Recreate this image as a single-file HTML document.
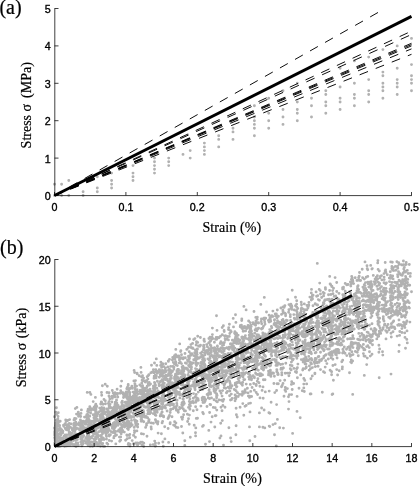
<!DOCTYPE html>
<html lang="en"><head><meta charset="utf-8"><title>Stress-strain</title>
<style>html,body{margin:0;padding:0;background:#fff}svg{display:block}.t{font-family:"Liberation Sans",Arial,Helvetica,sans-serif;font-size:10.7px;fill:#000;stroke:#000;stroke-width:.35}.s{font-family:"Liberation Serif","Times New Roman",Times,serif;font-size:14px;fill:#000;stroke:#000;stroke-width:.2}.p{font-family:"Liberation Serif","Times New Roman",Times,serif;font-size:20px;fill:#000;stroke:#000;stroke-width:.2}.ax{stroke:#000;stroke-width:.75;fill:none}.d{stroke:#000;stroke-width:.95;fill:none;stroke-dasharray:9 8.27}.k{stroke:#000;stroke-width:2.9;fill:none}.g{stroke:#b1b1b1;stroke-width:2.9;stroke-linecap:round;fill:none}</style></head><body>
<svg width="419" height="486" viewBox="0 0 419 486">
<rect width="419" height="486" fill="#fff"/>
<path class="g" d="M54.5 184.3h0M54.5 195.5h0M61.6 184.3h0M61.6 195.5h0M68.8 180.5h0M68.8 195.5h0M83.1 191.8h0M83.1 195.5h0M97.3 176.8h0M97.3 188.0h0M97.3 191.8h0M111.6 173.1h0M111.6 180.5h0M111.6 184.3h0M111.6 188.0h0M133.0 165.6h0M133.0 173.1h0M133.0 176.8h0M133.0 180.5h0M154.5 158.1h0M154.5 161.8h0M154.5 165.6h0M154.5 169.3h0M154.5 173.1h0M168.7 158.1h0M168.7 161.8h0M168.7 165.6h0M183.0 154.4h0M190.2 150.6h0M190.2 158.1h0M204.4 143.1h0M204.4 146.9h0M204.4 150.6h0M204.4 154.4h0M218.7 135.7h0M218.7 139.4h0M218.7 146.9h0M233.0 128.2h0M233.0 131.9h0M233.0 139.4h0M254.4 105.7h0M254.4 117.0h0M254.4 120.7h0M254.4 124.4h0M254.4 128.2h0M254.4 135.7h0M268.7 98.3h0M268.7 113.2h0M268.7 120.7h0M268.7 128.2h0M283.0 90.8h0M283.0 109.5h0M283.0 117.0h0M283.0 124.4h0M297.3 83.3h0M297.3 102.0h0M297.3 109.5h0M297.3 113.2h0M297.3 120.7h0M311.5 98.3h0M311.5 105.7h0M311.5 117.0h0M325.8 90.8h0M325.8 94.5h0M325.8 102.0h0M325.8 105.7h0M325.8 113.2h0M340.1 68.3h0M340.1 87.0h0M340.1 98.3h0M340.1 102.0h0M340.1 109.5h0M354.4 60.9h0M354.4 83.3h0M354.4 94.5h0M354.4 98.3h0M354.4 105.7h0M368.7 57.1h0M368.7 79.6h0M368.7 90.8h0M368.7 94.5h0M368.7 102.0h0M382.9 49.6h0M382.9 72.1h0M382.9 75.8h0M382.9 83.3h0M382.9 87.0h0M382.9 90.8h0M382.9 98.3h0M397.2 45.9h0M397.2 68.3h0M397.2 79.6h0M397.2 83.3h0M397.2 87.0h0M397.2 94.5h0M411.5 38.4h0M411.5 64.6h0M411.5 75.8h0M411.5 79.6h0M411.5 83.3h0M411.5 90.8h0"/>
<path class="d" d="M54.5 195.5L411.50 31.13"/>
<path class="d" d="M54.5 195.5L411.50 34.49"/>
<path class="d" d="M54.5 195.5L411.50 43.28"/>
<path class="d" d="M54.5 195.5L411.50 44.59"/>
<path class="d" d="M54.5 195.5L411.50 45.90"/>
<path class="d" d="M54.5 195.5L411.50 48.89"/>
<path class="d" d="M54.5 195.5L411.50 54.31"/>
<path class="d" d="M54.5 195.5L385.06 8.50"/>
<path class="k" d="M54.5 195.5L411.50 16.35"/>
<path class="ax" d="M54.8 8.5V195.6H411.8"/>
<path class="ax" d="M54.5 195.50h4M54.5 158.10h4M54.5 120.70h4M54.5 83.30h4M54.5 45.90h4M54.5 8.50h4M54.50 195.5v-3.5M125.90 195.5v-3.5M197.30 195.5v-3.5M268.70 195.5v-3.5M340.10 195.5v-3.5M411.50 195.5v-3.5"/>
<text class="t" x="50.6" y="200.0" text-anchor="end">0</text>
<text class="t" x="50.6" y="162.6" text-anchor="end">1</text>
<text class="t" x="50.6" y="125.2" text-anchor="end">2</text>
<text class="t" x="50.6" y="87.8" text-anchor="end">3</text>
<text class="t" x="50.6" y="50.4" text-anchor="end">4</text>
<text class="t" x="50.6" y="13.0" text-anchor="end">5</text>
<text class="t" x="54.5" y="210.9" text-anchor="middle">0</text>
<text class="t" x="125.9" y="210.9" text-anchor="middle">0.1</text>
<text class="t" x="197.3" y="210.9" text-anchor="middle">0.2</text>
<text class="t" x="268.7" y="210.9" text-anchor="middle">0.3</text>
<text class="t" x="340.1" y="210.9" text-anchor="middle">0.4</text>
<text class="t" x="411.5" y="210.9" text-anchor="middle">0.5</text>
<text class="p" x="-0.6" y="13.6">(a)</text>
<text class="s" transform="translate(30.8 148.4) rotate(-90)">Stress σ</text>
<text class="s" transform="translate(30.8 62.2) rotate(-90)" text-anchor="end">(MPa)</text>
<text class="s" x="202.5" y="232" textLength="58.6">Strain (%)</text>
<path class="g" d="M114.8 431.3h0M270.6 349.6h0M279.6 336.5h0M108.2 410.6h0M187.4 389.5h0M83.7 435.7h0M263.5 338.3h0M168.6 373.6h0M121.7 412.6h0M123.9 417.9h0M217.9 337.7h0M148.8 420.7h0M115.0 418.0h0M332.9 365.5h0M222.6 352.4h0M95.2 425.0h0M160.9 362.3h0M104.4 418.7h0M351.4 279.4h0M284.0 396.3h0M332.5 343.2h0M172.2 383.9h0M274.8 343.5h0M147.6 417.7h0M97.3 413.7h0M370.6 302.2h0M404.5 270.9h0M242.5 391.8h0M349.4 314.4h0M373.0 302.1h0M61.2 431.5h0M344.0 297.0h0M235.8 341.9h0M270.7 321.2h0M385.7 330.6h0M231.0 370.8h0M109.6 422.1h0M267.1 350.4h0M89.1 442.0h0M136.1 423.1h0M386.0 338.9h0M199.4 358.1h0M120.0 431.6h0M88.4 440.1h0M216.5 355.8h0M159.3 409.1h0M242.4 352.8h0M134.3 404.2h0M400.9 282.3h0M323.9 308.3h0M154.0 405.6h0M182.5 373.2h0M86.9 441.6h0M222.2 372.5h0M368.3 284.0h0M278.5 351.9h0M298.3 336.5h0M326.1 309.2h0M87.3 427.7h0M333.5 288.2h0M257.8 349.0h0M301.9 346.3h0M358.6 289.5h0M236.1 408.2h0M263.0 365.9h0M100.2 435.6h0M354.1 312.2h0M338.2 307.2h0M279.7 427.8h0M363.9 289.8h0M287.6 350.6h0M377.4 296.6h0M61.2 434.1h0M99.4 411.7h0M65.7 419.9h0M406.3 283.1h0M304.8 380.4h0M137.5 443.0h0M107.2 417.7h0M54.9 429.0h0M154.6 390.6h0M384.8 311.9h0M139.8 401.7h0M320.6 334.8h0M141.9 409.9h0M102.4 385.7h0M127.6 424.7h0M96.2 411.4h0M243.8 379.7h0M399.7 310.5h0M374.6 294.2h0M250.2 322.6h0M236.9 382.5h0M155.0 392.2h0M289.7 330.1h0M116.3 405.9h0M159.4 397.7h0M157.4 381.2h0M405.3 324.0h0M312.4 295.2h0M187.4 414.3h0M384.8 300.4h0M68.2 445.0h0M317.1 362.9h0M332.2 328.2h0M386.3 303.0h0M114.7 427.8h0M162.2 412.1h0M166.8 385.3h0M276.2 360.1h0M110.4 434.7h0M214.4 360.4h0M214.0 391.1h0M333.0 317.5h0M270.6 373.5h0M79.3 429.5h0M407.8 279.4h0M153.8 385.9h0M211.2 352.5h0M317.9 312.7h0M75.3 436.3h0M133.6 401.7h0M317.3 328.2h0M305.0 360.9h0M399.5 325.3h0M331.6 371.8h0M300.7 312.9h0M157.4 371.4h0M328.8 353.6h0M182.5 373.8h0M117.1 394.2h0M98.5 445.5h0M323.9 335.4h0M267.3 362.2h0M171.8 395.1h0M210.6 345.5h0M112.3 390.5h0M107.7 429.4h0M280.2 357.8h0M163.5 376.3h0M175.6 380.1h0M141.5 414.7h0M73.8 425.4h0M118.7 415.1h0M221.0 435.9h0M205.2 365.6h0M354.9 295.8h0M115.0 404.2h0M139.4 398.0h0M191.0 347.5h0M124.3 407.4h0M218.4 384.7h0M162.2 397.5h0M368.7 292.4h0M323.3 321.6h0M60.1 443.6h0M262.5 374.9h0M143.5 434.1h0M299.5 315.0h0M217.6 337.5h0M102.7 409.7h0M278.9 330.0h0M401.3 264.6h0M387.3 274.7h0M338.4 311.7h0M405.4 271.5h0M261.6 361.5h0M104.6 446.4h0M54.6 433.1h0M128.9 403.3h0M326.0 354.8h0M244.0 357.7h0M310.9 363.3h0M337.6 307.5h0M371.2 281.6h0M185.2 368.5h0M291.7 329.5h0M101.1 420.6h0M224.1 381.1h0M343.8 334.1h0M129.7 416.3h0M232.2 344.6h0M266.5 312.0h0M385.2 262.5h0M104.4 431.6h0M309.2 370.1h0M324.7 342.1h0M331.1 302.6h0M188.6 378.6h0M279.3 351.4h0M330.2 341.7h0M237.7 350.6h0M169.3 404.8h0M339.1 306.5h0M217.1 395.4h0M346.8 306.8h0M222.8 348.1h0M128.2 428.4h0M201.4 386.7h0M335.6 305.2h0M228.1 363.9h0M346.8 284.9h0M136.9 421.2h0M373.9 310.1h0M121.1 406.9h0M61.1 432.9h0M389.9 277.6h0M100.7 404.0h0M319.6 340.4h0M405.2 292.3h0M156.3 422.2h0M264.5 338.0h0M254.4 377.7h0M401.0 308.2h0M365.5 304.6h0M156.7 404.0h0M127.2 404.3h0M262.6 368.9h0M397.7 325.1h0M379.2 333.7h0M211.9 338.9h0M189.9 398.9h0M102.5 433.7h0M349.9 329.4h0M96.6 435.7h0M109.2 435.1h0M326.4 321.6h0M154.7 441.1h0M256.0 321.0h0M292.2 290.2h0M237.2 356.5h0M251.6 344.5h0M66.9 427.1h0M237.9 338.8h0M177.6 369.7h0M133.6 398.8h0M284.0 337.4h0M160.0 406.5h0M151.1 427.0h0M104.6 426.6h0M150.4 393.7h0M224.1 330.4h0M301.8 333.9h0M56.9 426.7h0M283.5 349.2h0M127.4 421.6h0M239.2 349.2h0M208.0 354.0h0M375.5 283.1h0M332.8 393.9h0M204.8 381.3h0M323.6 295.9h0M182.1 402.7h0M374.2 300.4h0M277.0 357.1h0M153.9 392.7h0M215.7 351.3h0M129.5 408.3h0M227.4 391.5h0M204.1 399.0h0M333.6 333.3h0M392.0 292.7h0M150.3 444.9h0M245.4 367.3h0M168.9 416.6h0M135.0 403.4h0M148.2 392.5h0M362.6 339.5h0M397.7 297.2h0M310.5 352.2h0M66.0 443.1h0M259.9 375.8h0M288.5 409.1h0M352.3 330.2h0M154.9 383.3h0M271.1 402.2h0M137.7 427.1h0M385.6 304.2h0M359.2 276.3h0M102.1 416.4h0M121.6 381.1h0M141.4 401.4h0M187.8 387.3h0M372.3 268.6h0M265.2 333.9h0M364.0 329.2h0M351.0 321.4h0M383.3 316.7h0M105.2 426.6h0M225.6 371.9h0M74.7 435.5h0M242.8 403.6h0M257.9 336.7h0M296.0 349.8h0M133.9 397.3h0M242.8 354.0h0M163.1 400.3h0M226.6 381.7h0M247.4 388.3h0M133.0 392.1h0M183.2 405.0h0M126.5 397.5h0M317.3 341.1h0M180.7 357.6h0M203.4 413.8h0M62.8 443.7h0M242.7 359.8h0M404.8 285.6h0M213.3 377.6h0M298.5 324.7h0M314.0 340.0h0M353.1 298.5h0M176.2 409.0h0M377.1 315.0h0M343.4 287.6h0M336.0 311.3h0M365.2 326.8h0M300.9 345.9h0M271.8 331.4h0M134.5 394.8h0M228.1 387.2h0M382.9 328.9h0M316.8 362.0h0M208.0 367.3h0M146.5 380.5h0M276.8 348.3h0M320.4 345.6h0M128.2 444.5h0M358.1 307.0h0M198.0 398.6h0M231.3 394.1h0M361.6 333.5h0M264.9 360.0h0M155.4 375.0h0M243.4 327.0h0M239.7 359.3h0M310.2 394.0h0M156.3 401.2h0M71.7 443.4h0M356.6 297.1h0M55.5 431.8h0M236.5 357.5h0M56.4 445.1h0M135.9 401.1h0M212.4 363.9h0M192.1 372.9h0M276.8 369.6h0M291.6 394.6h0M259.0 382.7h0M297.4 377.8h0M277.8 326.4h0M287.3 373.1h0M408.4 285.0h0M152.7 400.6h0M278.4 330.4h0M182.6 372.4h0M126.5 394.2h0M212.0 337.2h0M163.0 389.4h0M189.9 377.3h0M235.1 394.9h0M271.1 363.2h0M215.8 359.2h0M256.0 340.6h0M203.7 345.3h0M163.5 392.4h0M183.7 401.6h0M398.5 271.8h0M243.0 345.2h0M75.1 435.0h0M362.2 296.2h0M106.5 436.5h0M95.2 431.3h0M377.8 296.5h0M401.0 314.2h0M196.9 363.2h0M175.8 406.7h0M305.2 342.4h0M66.1 421.5h0M288.9 336.0h0M393.0 322.0h0M202.8 397.1h0M316.6 296.3h0M93.9 439.1h0M282.5 328.7h0M290.7 329.6h0M109.4 430.4h0M148.5 395.2h0M142.8 399.2h0M230.6 369.0h0M127.2 438.7h0M68.0 427.7h0M209.7 386.3h0M320.5 369.6h0M235.0 398.0h0M266.4 348.2h0M357.0 290.6h0M176.8 378.0h0M184.3 392.0h0M195.5 368.6h0M241.8 358.6h0M197.5 373.5h0M121.8 428.3h0M297.4 367.8h0M97.4 425.0h0M269.1 315.3h0M280.1 337.7h0M345.5 317.9h0M226.7 370.6h0M278.4 316.3h0M230.5 330.7h0M170.2 422.8h0M283.3 336.9h0M398.0 287.7h0M149.8 390.7h0M376.0 329.7h0M358.5 315.8h0M231.0 388.0h0M362.7 296.4h0M397.1 336.1h0M369.2 309.3h0M292.9 328.5h0M335.0 352.5h0M177.9 427.6h0M101.4 414.8h0M403.1 272.9h0M189.7 376.1h0M250.9 357.3h0M129.1 444.0h0M61.4 433.4h0M214.4 361.7h0M163.9 394.8h0M136.1 391.5h0M319.8 342.8h0M331.1 320.3h0M64.6 446.2h0M259.3 353.6h0M162.0 375.9h0M210.4 353.1h0M219.0 337.8h0M127.3 409.6h0M97.4 443.5h0M326.0 321.1h0M256.7 359.0h0M294.3 310.0h0M155.3 446.3h0M298.3 351.6h0M121.2 429.4h0M91.2 431.1h0M175.3 375.6h0M357.8 306.9h0M364.3 375.4h0M168.3 360.9h0M268.3 344.6h0M380.4 332.9h0M204.3 386.4h0M323.4 302.6h0M406.7 289.3h0M325.9 339.4h0M230.5 400.0h0M279.9 344.3h0M121.3 392.5h0M162.8 364.0h0M82.6 432.7h0M230.4 385.6h0M216.7 395.3h0M341.1 321.8h0M114.1 423.3h0M388.7 317.2h0M338.6 351.9h0M371.0 336.3h0M148.4 412.6h0M290.8 354.3h0M157.4 404.8h0M360.8 292.9h0M81.1 434.9h0M226.4 392.7h0M149.4 384.8h0M208.7 342.9h0M156.3 358.9h0M187.8 361.1h0M154.5 363.0h0M127.5 408.2h0M289.1 333.0h0M102.8 429.2h0M117.1 394.1h0M200.1 389.6h0M181.5 426.5h0M100.1 415.4h0M305.5 317.7h0M345.5 308.4h0M195.1 389.7h0M229.2 358.6h0M147.0 407.2h0M251.9 334.2h0M344.8 317.9h0M305.0 351.9h0M366.9 335.9h0M351.3 312.1h0M372.0 323.8h0M176.5 387.9h0M350.1 319.8h0M391.0 326.7h0M304.6 314.4h0M148.7 398.7h0M185.8 393.5h0M305.1 363.9h0M184.5 386.4h0M219.3 381.0h0M92.4 425.9h0M191.5 386.1h0M76.0 439.6h0M82.8 444.2h0M384.0 288.2h0M291.1 369.9h0M176.5 391.3h0M237.7 382.1h0M404.3 310.4h0M259.7 352.9h0M189.9 378.4h0M342.7 360.3h0M332.1 394.5h0M324.0 356.1h0M190.4 403.4h0M195.9 402.2h0M320.2 338.0h0M154.9 405.1h0M283.0 345.7h0M191.3 402.1h0M233.5 370.5h0M403.6 322.3h0M110.8 418.0h0M126.2 391.9h0M94.8 432.4h0M114.2 431.5h0M229.1 363.8h0M246.8 349.2h0M141.8 420.2h0M212.5 380.5h0M324.6 300.8h0M236.3 367.8h0M258.2 356.0h0M270.6 342.4h0M112.4 427.5h0M296.7 300.8h0M329.7 353.0h0M221.0 407.3h0M175.9 423.0h0M128.5 443.5h0M169.9 391.2h0M392.9 270.2h0M189.2 366.4h0M236.4 333.3h0M114.3 428.2h0M97.0 416.1h0M306.5 328.5h0M274.7 322.9h0M323.5 371.8h0M254.7 366.8h0M55.3 443.4h0M319.2 289.4h0M331.0 340.9h0M84.1 440.6h0M85.7 438.2h0M286.1 327.7h0M391.2 302.9h0M197.7 342.4h0M372.8 309.1h0M271.9 315.7h0M359.0 348.2h0M284.8 322.9h0M134.2 427.4h0M75.3 408.6h0M244.8 391.3h0M260.0 397.9h0M137.3 399.4h0M257.3 363.2h0M232.5 349.6h0M250.9 353.3h0M280.8 324.7h0M307.7 348.7h0M309.1 345.9h0M406.0 323.7h0M103.5 414.1h0M93.9 422.6h0M409.3 302.7h0M117.7 413.9h0M238.7 340.7h0M68.4 430.2h0M88.6 432.6h0M345.2 291.2h0M285.8 328.4h0M236.8 352.1h0M133.9 409.2h0M229.2 367.2h0M138.2 400.3h0M80.7 416.5h0M94.8 438.8h0M153.4 369.6h0M86.9 422.1h0M114.6 412.9h0M270.4 319.3h0M101.4 411.1h0M175.1 392.4h0M86.4 420.6h0M302.1 331.7h0M338.6 352.7h0M363.8 349.7h0M210.6 371.6h0M113.6 409.7h0M207.0 350.5h0M162.9 363.9h0M393.1 297.6h0M134.7 414.4h0M86.6 416.9h0M205.3 376.0h0M257.1 322.9h0M147.2 401.3h0M325.4 287.7h0M350.4 312.5h0M149.9 389.1h0M186.4 363.4h0M208.5 394.5h0M358.8 333.4h0M128.7 424.0h0M365.0 290.1h0M133.4 402.7h0M379.2 309.2h0M353.6 283.6h0M404.5 325.6h0M175.3 397.2h0M290.6 334.0h0M389.9 308.5h0M202.5 356.5h0M206.2 378.2h0M303.1 362.0h0M307.8 327.8h0M248.0 325.4h0M230.7 347.4h0M301.2 315.4h0M384.1 277.1h0M110.8 419.0h0M143.1 392.2h0M392.8 327.1h0M216.0 389.4h0M332.3 345.4h0M382.5 351.7h0M129.9 424.0h0M280.1 380.6h0M183.3 357.6h0M364.7 320.0h0M334.2 296.4h0M230.4 344.0h0M134.5 432.6h0M154.0 405.4h0M114.5 407.3h0M336.4 354.9h0M91.0 444.8h0M324.8 312.7h0M71.2 435.7h0M127.5 425.8h0M275.7 354.0h0M268.9 351.5h0M253.7 346.6h0M88.8 434.7h0M194.1 385.9h0M296.1 342.9h0M88.4 409.6h0M355.4 351.5h0M116.6 412.3h0M393.4 293.6h0M86.7 432.3h0M323.6 315.6h0M223.4 325.8h0M174.4 392.9h0M161.5 403.8h0M375.1 329.8h0M280.0 327.2h0M85.7 428.4h0M234.9 340.8h0M236.6 396.4h0M210.6 394.0h0M283.1 331.3h0M362.2 269.3h0M228.1 378.8h0M177.8 369.4h0M339.7 331.6h0M362.6 277.7h0M75.8 422.2h0M313.0 334.4h0M291.5 307.2h0M276.8 371.8h0M196.3 357.8h0M261.7 323.8h0M343.8 351.7h0M351.7 281.8h0M383.3 295.8h0M211.5 397.9h0M294.8 319.3h0M407.7 300.8h0M197.7 357.4h0M304.6 320.8h0M175.7 396.4h0M320.6 318.4h0M269.6 337.7h0M84.6 427.6h0M265.0 324.3h0M358.3 355.8h0M142.1 420.7h0M408.8 307.2h0M216.8 355.2h0M322.7 338.7h0M255.5 364.3h0M212.2 348.3h0M190.3 437.2h0M82.3 438.1h0M149.8 411.4h0M209.1 348.8h0M246.2 353.3h0M323.8 337.3h0M214.9 375.6h0M222.1 396.1h0M302.7 341.8h0M261.5 329.1h0M260.7 363.1h0M389.5 281.6h0M189.3 396.7h0M209.3 363.0h0M276.3 344.6h0M162.4 415.7h0M262.9 361.3h0M88.3 435.1h0M361.9 322.1h0M223.8 343.2h0M300.5 316.8h0M87.4 422.1h0M296.3 330.1h0M59.6 425.4h0M150.8 410.0h0M303.8 387.9h0M352.9 281.3h0M184.4 374.6h0M129.7 394.2h0M386.7 291.5h0M369.8 298.4h0M261.8 340.6h0M277.5 320.7h0M210.6 341.0h0M378.9 325.6h0M360.6 280.5h0M223.5 445.1h0M96.1 432.7h0M142.2 400.9h0M309.5 323.2h0M140.8 400.0h0M165.0 395.4h0M403.5 315.8h0M278.5 363.2h0M106.8 423.5h0M405.6 308.1h0M369.4 325.3h0M283.0 348.4h0M134.6 372.5h0M357.4 306.5h0M127.9 402.2h0M251.8 344.2h0M210.5 392.7h0M115.7 426.6h0M122.3 401.2h0M108.2 427.3h0M252.3 358.9h0M95.7 437.2h0M129.8 392.4h0M113.8 437.9h0M70.1 436.9h0M290.1 358.0h0M237.2 350.4h0M156.7 411.2h0M323.7 357.8h0M107.8 444.3h0M343.3 331.9h0M317.8 316.9h0M229.2 388.3h0M358.1 344.6h0M296.9 358.2h0M261.6 362.3h0M237.3 363.8h0M184.9 375.4h0M248.9 339.6h0M359.2 345.6h0M167.7 395.7h0M172.4 371.5h0M55.5 425.6h0M145.0 390.8h0M404.2 308.2h0M195.8 354.7h0M168.5 417.7h0M223.8 363.5h0M299.4 314.5h0M343.4 340.9h0M268.3 365.0h0M129.2 407.5h0M170.2 412.5h0M325.5 299.9h0M341.7 329.9h0M291.0 325.8h0M241.8 337.1h0M256.7 349.3h0M177.3 381.1h0M58.0 446.4h0M402.2 275.4h0M215.7 390.6h0M221.7 368.7h0M225.7 388.3h0M150.5 391.0h0M239.8 377.6h0M128.7 398.2h0M402.8 310.5h0M164.9 438.9h0M231.2 377.0h0M350.5 293.4h0M167.9 381.3h0M182.8 374.9h0M248.1 373.6h0M283.0 311.6h0M210.9 378.4h0M255.0 358.3h0M345.3 311.9h0M160.7 414.4h0M103.5 410.5h0M393.1 299.0h0M128.3 415.1h0M60.9 445.9h0M379.3 331.2h0M140.3 390.2h0M238.9 367.7h0M261.8 367.0h0M123.0 419.5h0M114.7 416.0h0M209.6 377.0h0M155.6 405.5h0M332.0 313.1h0M373.1 290.4h0M96.4 442.2h0M222.9 401.3h0M112.9 432.6h0M303.8 316.6h0M313.9 349.9h0M274.5 434.8h0M56.0 438.9h0M216.3 360.7h0M187.6 390.3h0M205.7 399.6h0M135.7 397.3h0M95.3 405.7h0M156.4 376.3h0M268.3 364.1h0M148.1 383.5h0M385.0 294.4h0M225.4 363.0h0M303.8 378.4h0M116.9 408.9h0M162.6 421.4h0M140.1 415.0h0M303.8 384.1h0M243.1 358.0h0M277.7 374.6h0M275.9 350.5h0M210.5 371.2h0M68.8 429.0h0M402.1 265.0h0M119.6 421.7h0M271.7 352.4h0M392.5 315.4h0M188.6 387.3h0M177.6 382.0h0M128.8 416.6h0M220.6 343.2h0M211.2 351.2h0M402.7 279.7h0M229.4 366.1h0M153.2 388.4h0M326.7 305.9h0M285.2 343.9h0M171.1 371.9h0M258.3 322.7h0M143.9 413.4h0M250.0 411.9h0M293.3 359.1h0M79.3 414.3h0M251.9 337.1h0M222.6 390.6h0M70.6 441.6h0M224.0 380.0h0M205.0 371.3h0M201.4 382.9h0M100.4 414.9h0M348.5 331.6h0M211.9 364.3h0M77.5 428.4h0M109.0 407.9h0M230.6 367.1h0M252.6 368.4h0M109.1 415.7h0M292.7 344.9h0M73.8 436.3h0M294.3 318.2h0M352.1 299.8h0M208.8 430.4h0M268.7 333.6h0M220.8 366.6h0M276.9 370.0h0M134.8 404.2h0M282.6 364.1h0M257.5 365.1h0M196.5 382.6h0M258.6 323.1h0M128.3 391.7h0M128.2 384.4h0M94.0 442.0h0M318.6 325.0h0M327.4 299.5h0M58.5 434.2h0M88.8 426.6h0M81.4 422.6h0M386.9 332.3h0M173.8 384.8h0M183.7 395.5h0M303.5 348.5h0M353.5 301.1h0M163.9 366.6h0M220.7 423.2h0M396.8 282.7h0M161.5 401.0h0M242.9 368.8h0M311.6 341.2h0M396.9 261.8h0M357.3 352.3h0M85.5 428.9h0M256.5 353.1h0M359.6 312.1h0M177.1 376.7h0M235.2 384.9h0M391.4 323.8h0M127.5 396.9h0M190.6 353.9h0M344.7 320.4h0M316.6 336.1h0M106.6 408.9h0M276.4 345.3h0M169.7 382.7h0M76.5 414.1h0M187.2 388.4h0M191.1 364.5h0M397.2 303.1h0M104.5 426.9h0M289.4 333.5h0M219.9 351.2h0M81.4 409.9h0M130.3 423.9h0M339.0 310.9h0M105.9 431.4h0M365.0 285.6h0M209.5 441.6h0M276.8 343.2h0M263.4 341.4h0M267.2 350.5h0M334.3 333.4h0M397.8 276.7h0M261.4 319.0h0M88.1 410.2h0M155.2 410.9h0M399.0 280.3h0M181.4 383.3h0M338.0 344.6h0M163.1 387.7h0M231.2 377.8h0M364.8 329.3h0M87.2 392.4h0M81.2 421.0h0M295.9 332.4h0M277.0 346.8h0M350.7 362.1h0M69.8 434.0h0M242.3 360.6h0M250.4 342.4h0M109.3 436.1h0M154.5 382.5h0M196.2 370.6h0M248.7 361.5h0M317.8 312.4h0M174.5 406.8h0M182.1 371.1h0M204.9 354.9h0M347.6 331.8h0M335.9 349.7h0M92.4 446.3h0M177.9 393.0h0M215.7 355.8h0M371.5 294.8h0M293.3 328.4h0M312.2 296.7h0M170.0 380.5h0M143.7 414.3h0M311.2 345.4h0M297.9 364.1h0M168.6 442.4h0M324.1 308.3h0M309.8 327.1h0M195.3 358.7h0M61.0 434.7h0M108.2 414.3h0M227.2 359.4h0M167.2 389.1h0M271.2 348.5h0M399.7 293.3h0M104.5 421.5h0M397.4 282.5h0M97.3 419.2h0M214.5 347.8h0M57.6 431.0h0M344.3 318.9h0M390.1 318.2h0M390.7 261.9h0M323.3 336.5h0M249.9 360.0h0M378.6 311.3h0M154.6 396.1h0M229.0 349.2h0M235.9 352.0h0M366.0 341.1h0M371.1 335.7h0M124.6 422.8h0M228.4 339.9h0M101.6 439.7h0M69.0 439.3h0M391.9 290.6h0M111.8 418.3h0M335.2 364.6h0M255.6 373.2h0M391.3 305.8h0M323.8 350.8h0M195.1 379.5h0M196.6 342.5h0M231.6 358.2h0M309.8 327.0h0M283.4 367.9h0M214.4 349.3h0M310.2 316.3h0M272.1 344.1h0M366.7 364.6h0M377.7 262.9h0M197.0 382.7h0M209.4 342.4h0M177.1 372.7h0M61.0 440.9h0M141.1 372.4h0M131.6 397.2h0M66.4 445.5h0M269.8 413.2h0M182.8 433.0h0M68.3 442.8h0M256.1 337.7h0M337.9 301.4h0M248.7 321.0h0M196.0 400.5h0M284.2 341.5h0M316.3 338.5h0M198.3 370.4h0M202.1 376.9h0M344.3 326.6h0M183.6 393.1h0M161.5 408.3h0M310.2 330.9h0M111.3 431.7h0M328.9 321.5h0M101.3 402.0h0M227.9 353.8h0M264.1 410.0h0M275.8 316.1h0M357.3 348.2h0M174.7 392.1h0M108.3 427.0h0M332.7 320.3h0M297.2 314.5h0M394.9 328.8h0M139.7 401.1h0M183.3 377.4h0M167.7 384.5h0M210.9 345.9h0M234.8 348.3h0M93.9 417.8h0M83.3 429.9h0M317.1 362.8h0M218.3 385.6h0M332.6 290.6h0M200.8 373.9h0M289.2 351.0h0M215.3 415.8h0M256.7 362.6h0M378.4 303.4h0M143.1 410.2h0M222.5 356.6h0M148.9 409.2h0M60.7 446.1h0M80.4 419.9h0M267.6 345.3h0M175.8 349.4h0M120.4 420.9h0M210.9 371.9h0M299.5 332.9h0M75.6 444.3h0M237.2 372.8h0M263.4 326.4h0M323.6 312.4h0M246.1 345.3h0M409.3 264.5h0M271.0 334.4h0M330.8 339.1h0M218.0 388.1h0M355.6 301.7h0M209.8 371.3h0M296.3 338.2h0M277.1 383.8h0M182.2 407.8h0M230.8 369.3h0M114.2 425.8h0M148.7 401.9h0M379.2 377.8h0M134.5 392.0h0M222.1 365.1h0M230.6 355.6h0M370.1 285.9h0M399.3 286.5h0M168.5 393.0h0M357.1 310.8h0M375.3 331.0h0M393.8 288.2h0M251.2 336.9h0M184.3 410.8h0M189.5 366.7h0M256.3 345.8h0M397.6 274.8h0M343.4 337.3h0M200.8 356.8h0M352.5 342.6h0M87.6 433.1h0M248.8 362.9h0M152.5 391.6h0M243.1 356.2h0M312.5 299.0h0M211.7 355.5h0M136.9 444.5h0M273.5 373.3h0M135.0 385.3h0M401.4 285.8h0M284.9 313.3h0M280.9 308.0h0M328.7 318.4h0M82.1 425.4h0M222.8 363.0h0M82.8 426.0h0M392.3 269.2h0M214.4 355.5h0M256.5 374.2h0M167.6 386.2h0M229.8 362.0h0M251.8 355.2h0M182.0 407.6h0M393.7 321.0h0M344.9 299.9h0M349.9 308.7h0M193.6 382.0h0M62.1 444.6h0M118.5 406.6h0M353.1 343.7h0M137.7 445.1h0M186.6 368.2h0M169.5 375.3h0M178.6 370.5h0M156.4 421.4h0M236.4 414.7h0M332.6 318.6h0M292.5 327.3h0M330.3 317.6h0M216.0 370.9h0M169.0 404.8h0M179.4 392.3h0M397.8 268.3h0M374.6 328.4h0M337.8 342.9h0M102.4 426.4h0M214.4 358.7h0M221.7 376.4h0M257.4 335.0h0M317.5 318.4h0M380.9 291.4h0M235.2 338.4h0M261.5 339.2h0M155.8 420.7h0M252.7 347.8h0M191.8 402.2h0M117.2 422.6h0M182.9 370.4h0M315.1 359.8h0M283.6 343.6h0M177.0 405.5h0M85.9 441.6h0M339.0 340.8h0M269.8 334.6h0M163.0 393.3h0M288.9 375.7h0M238.9 372.8h0M157.0 403.3h0M358.4 292.4h0M297.9 324.3h0M247.8 357.3h0M296.7 345.5h0M362.2 334.4h0M352.2 298.0h0M142.1 380.3h0M258.6 342.0h0M351.4 310.0h0M375.3 297.5h0M368.8 287.1h0M202.6 380.7h0M236.1 357.1h0M197.0 409.8h0M94.4 431.1h0M217.4 365.3h0M102.6 423.4h0M202.6 374.6h0M316.3 358.8h0M318.2 356.6h0M355.2 277.8h0M306.4 358.8h0M282.6 338.1h0M306.1 367.7h0M371.6 298.0h0M101.1 418.8h0M134.1 393.0h0M260.8 347.5h0M365.0 310.2h0M214.5 376.6h0M162.1 412.1h0M154.9 412.9h0M370.8 317.6h0M373.3 275.4h0M203.0 402.5h0M102.5 425.3h0M262.9 427.3h0M128.2 385.4h0M311.0 333.0h0M265.6 362.9h0M140.7 442.3h0M109.4 424.1h0M118.1 425.2h0M306.3 366.9h0M303.4 334.0h0M390.9 303.8h0M102.7 443.4h0M281.8 374.9h0M291.7 322.4h0M123.1 422.3h0M141.7 404.2h0M277.6 363.2h0M249.9 375.2h0M238.5 372.1h0M304.2 342.1h0M115.0 392.8h0M402.2 326.0h0M163.0 400.2h0M120.1 393.3h0M196.3 401.1h0M209.7 398.6h0M127.6 413.8h0M269.2 426.1h0M369.8 334.6h0M288.7 348.9h0M310.9 352.4h0M55.3 446.0h0M260.0 375.2h0M155.4 419.7h0M230.0 374.0h0M392.5 311.1h0M309.4 343.2h0M290.1 345.5h0M247.1 346.8h0M248.6 321.1h0M301.3 359.6h0M120.8 407.1h0M243.9 306.4h0M324.5 322.1h0M121.2 410.8h0M319.1 362.2h0M277.8 332.9h0M267.8 334.4h0M208.8 377.1h0M143.1 387.6h0M306.9 309.8h0M127.8 410.4h0M320.0 346.7h0M210.6 404.8h0M301.5 353.9h0M352.9 325.8h0M304.0 311.8h0M297.4 326.4h0M244.1 369.2h0M265.4 344.3h0M324.2 293.3h0M91.1 424.2h0M392.2 293.2h0M385.6 269.9h0M129.3 413.1h0M405.0 292.0h0M401.4 284.2h0M308.9 302.4h0M337.8 327.8h0M89.6 426.3h0M343.3 297.4h0M177.3 365.6h0M142.1 391.9h0M391.9 282.5h0M92.1 436.4h0M301.1 311.3h0M307.3 335.5h0M299.8 339.9h0M250.7 328.6h0M95.5 425.8h0M343.0 349.2h0M364.3 337.4h0M87.3 435.7h0M100.5 424.0h0M125.3 411.6h0M265.0 379.8h0M167.2 395.6h0M95.7 430.2h0M160.5 381.4h0M217.6 370.0h0M155.8 388.2h0M250.5 403.1h0M149.8 413.8h0M159.2 392.3h0M290.0 351.9h0M103.1 428.0h0M301.8 352.4h0M193.5 393.6h0M225.6 359.2h0M359.4 298.2h0M269.8 426.6h0M147.8 394.6h0M331.6 325.5h0M149.6 383.9h0M276.9 344.6h0M59.2 437.2h0M215.7 352.5h0M277.5 348.2h0M88.5 442.2h0M382.3 305.1h0M350.0 338.7h0M371.3 285.8h0M409.9 322.1h0M190.4 406.1h0M277.3 310.0h0M379.2 318.6h0M257.0 336.0h0M265.3 338.8h0M138.2 410.1h0M379.8 295.9h0M176.4 356.9h0M98.1 428.0h0M133.6 435.2h0M179.6 407.4h0M229.3 336.4h0M243.4 346.2h0M316.8 346.7h0M134.4 430.6h0M309.4 365.9h0M161.9 409.1h0M335.1 334.4h0M226.7 365.4h0M214.8 369.4h0M162.3 386.3h0M74.9 419.5h0M373.3 333.7h0M137.7 424.2h0M364.4 327.4h0M207.7 376.4h0M255.6 351.0h0M298.4 350.0h0M112.4 397.3h0M264.4 319.9h0M371.7 285.0h0M61.0 431.1h0M127.5 422.5h0M99.4 441.1h0M232.4 340.3h0M120.5 429.9h0M93.2 414.8h0M266.3 341.0h0M403.1 311.1h0M128.8 409.6h0M149.2 382.4h0M384.0 282.7h0M116.9 393.6h0M368.7 339.5h0M238.1 335.2h0M208.7 393.1h0M135.4 402.1h0M93.7 433.9h0M307.7 345.5h0M331.6 374.8h0M88.7 410.5h0M151.1 397.5h0M262.3 357.8h0M377.3 297.6h0M215.4 375.6h0M178.5 369.4h0M183.9 371.0h0M240.1 407.2h0M251.3 330.8h0M196.4 377.3h0M377.5 308.9h0M105.5 403.7h0M91.8 421.4h0M149.6 395.8h0M214.4 342.3h0M217.9 349.3h0M127.0 435.6h0M365.8 296.4h0M63.5 445.1h0M131.4 425.7h0M323.4 329.6h0M249.5 397.4h0M207.0 406.5h0M149.5 385.1h0M173.1 389.0h0M129.0 400.8h0M372.1 310.1h0M293.3 330.9h0M343.7 309.3h0M222.5 345.4h0M329.1 310.8h0M298.1 330.5h0M216.6 355.4h0M197.8 381.5h0M125.2 393.8h0M284.6 332.0h0M224.1 376.8h0M331.9 317.4h0M147.9 379.1h0M290.6 327.5h0M178.3 412.2h0M348.8 296.6h0M245.2 391.7h0M148.3 406.3h0M311.3 300.0h0M396.2 282.8h0M107.1 423.5h0M113.8 431.8h0M260.5 347.0h0M104.2 422.4h0M350.4 296.4h0M304.3 303.9h0M66.1 445.8h0M187.5 379.8h0M316.9 324.3h0M111.1 407.6h0M180.5 394.2h0M194.1 373.5h0M188.2 381.5h0M175.5 374.7h0M96.3 428.8h0M406.3 322.4h0M134.8 406.6h0M182.9 366.2h0M405.5 264.8h0M299.0 388.2h0M174.9 425.8h0M170.2 380.1h0M192.9 384.6h0M378.3 306.8h0M264.3 297.4h0M328.2 311.1h0M360.1 336.4h0M363.2 316.6h0M269.1 322.0h0M404.7 284.3h0M249.2 335.3h0M227.6 360.5h0M336.9 308.5h0M109.7 405.1h0M349.4 353.7h0M399.9 292.1h0M249.5 340.5h0M384.0 273.6h0M350.4 281.9h0M107.6 411.8h0M115.2 411.1h0M261.9 342.9h0M96.9 435.9h0M283.0 383.5h0M336.8 327.2h0M199.8 383.0h0M144.7 417.1h0M89.2 409.8h0M229.3 354.9h0M221.9 352.4h0M198.3 392.1h0M89.9 392.5h0M397.4 283.6h0M175.7 393.6h0M189.2 351.8h0M363.4 353.6h0M350.4 282.1h0M195.9 361.3h0M148.1 404.6h0M171.5 375.6h0M276.6 404.6h0M358.1 285.8h0M106.4 429.9h0M348.1 322.7h0M317.8 315.7h0M224.7 367.0h0M371.2 313.6h0M352.1 322.4h0M204.2 373.3h0M171.2 402.5h0M115.2 426.4h0M369.2 347.6h0M148.1 402.7h0M156.8 407.6h0M296.5 310.8h0M244.5 358.6h0M141.6 377.0h0M119.6 414.2h0M363.9 288.6h0M323.1 304.7h0M372.5 340.4h0M337.8 327.8h0M382.1 298.7h0M181.0 377.2h0M238.5 370.7h0M242.7 337.4h0M284.1 307.4h0M316.9 330.7h0M402.6 281.5h0M147.2 376.8h0M281.2 358.5h0M252.1 387.5h0M316.0 316.5h0M197.3 372.5h0M87.0 417.8h0M357.6 325.0h0M219.3 356.8h0M347.4 302.1h0M242.6 341.4h0M312.0 336.7h0M192.8 401.4h0M268.7 373.2h0M356.3 316.3h0M163.5 385.0h0M157.0 395.0h0M172.8 389.5h0M214.9 380.4h0M314.0 314.6h0M231.2 372.1h0M311.9 319.5h0M223.0 367.0h0M120.6 410.9h0M399.8 313.3h0M371.1 329.0h0M161.3 365.6h0M103.3 411.1h0M120.7 390.7h0M263.8 352.2h0M364.9 319.9h0M252.2 334.6h0M371.0 289.0h0M196.1 353.4h0M410.4 273.4h0M386.1 305.6h0M142.2 413.5h0M330.9 294.5h0M244.5 374.3h0M330.4 346.3h0M387.5 301.7h0M101.8 409.4h0M218.6 367.2h0M287.8 329.0h0M331.8 308.0h0M116.7 424.3h0M209.8 377.8h0M299.7 334.3h0M316.6 331.0h0M313.1 322.4h0M75.3 429.8h0M142.7 402.1h0M356.2 303.9h0M130.6 404.3h0M211.8 362.6h0M60.4 432.9h0M332.1 299.3h0M361.2 293.4h0M136.5 396.2h0M405.4 279.3h0M294.0 348.8h0M137.4 410.4h0M270.4 350.6h0M405.5 272.1h0M335.7 320.2h0M367.8 309.6h0M323.0 325.0h0M321.6 297.5h0M381.5 275.6h0M336.4 343.7h0M76.5 427.9h0M337.0 314.0h0M195.8 427.9h0M285.4 334.4h0M325.6 315.7h0M129.7 395.8h0M282.1 349.1h0M148.9 374.8h0M332.8 322.4h0M67.7 429.0h0M394.2 311.6h0M385.5 294.6h0M103.1 416.9h0M272.9 311.1h0M342.6 289.0h0M217.0 330.4h0M133.9 380.9h0M250.2 375.7h0M188.9 395.7h0M207.1 378.5h0M380.7 333.4h0M91.1 426.2h0M188.5 383.3h0M135.9 443.0h0M360.4 312.2h0M147.0 436.3h0M388.0 324.4h0M372.0 340.7h0M172.7 404.9h0M67.4 441.1h0M170.7 377.7h0M372.5 344.7h0M202.1 367.4h0M257.5 344.5h0M182.3 383.0h0M303.2 314.3h0M213.8 370.9h0M330.8 352.3h0M135.3 420.2h0M395.6 297.5h0M392.7 285.6h0M165.3 368.1h0M126.9 394.0h0M249.5 337.7h0M175.2 390.2h0M264.1 347.9h0M99.8 422.8h0M200.5 356.9h0M192.1 373.3h0M406.9 321.0h0M184.4 386.1h0M168.1 428.5h0M239.9 376.4h0M232.6 362.1h0M241.3 327.4h0M304.1 347.0h0M214.3 375.6h0M95.2 426.8h0M188.9 376.1h0M330.0 344.8h0M174.6 421.8h0M197.2 354.6h0M405.7 302.1h0M254.0 311.5h0M179.1 378.9h0M75.8 440.6h0M195.4 350.1h0M390.3 290.7h0M249.0 361.6h0M344.6 310.1h0M286.8 327.5h0M166.0 379.6h0M117.6 414.3h0M256.1 322.7h0M406.4 295.1h0M177.1 373.1h0M297.7 332.8h0M282.9 310.2h0M277.1 362.8h0M402.6 325.9h0M352.2 321.6h0M331.2 357.9h0M337.1 358.0h0M320.4 341.6h0M176.7 387.2h0M328.0 334.0h0M101.3 435.4h0M392.7 276.0h0M356.4 313.0h0M241.4 325.1h0M268.1 346.7h0M283.7 350.1h0M405.5 348.3h0M202.7 385.8h0M342.3 368.9h0M214.2 350.9h0M269.9 318.3h0M398.9 351.5h0M404.7 305.0h0M319.8 331.8h0M351.3 355.2h0M109.4 412.1h0M349.8 349.9h0M264.7 318.3h0M225.3 365.0h0M223.3 372.3h0M358.5 313.4h0M325.0 337.3h0M352.2 345.0h0M366.7 292.7h0M352.8 335.8h0M183.3 409.0h0M364.9 349.7h0M64.0 444.8h0M310.5 334.1h0M338.1 326.8h0M189.2 424.2h0M159.2 385.7h0M352.6 361.0h0M314.9 373.1h0M265.7 318.3h0M318.1 366.3h0M302.5 316.2h0M371.7 335.1h0M129.7 400.2h0M256.9 346.6h0M196.1 345.0h0M113.2 393.0h0M324.9 299.9h0M195.5 383.8h0M73.3 444.5h0M339.5 337.6h0M243.8 415.3h0M135.9 391.4h0M133.2 408.5h0M176.1 427.3h0M66.6 425.2h0M139.8 400.3h0M357.0 280.5h0M329.7 324.0h0M277.2 342.4h0M308.4 306.4h0M176.1 407.9h0M197.7 336.2h0M329.2 317.6h0M308.9 345.4h0M145.3 407.3h0M238.7 343.5h0M204.4 397.4h0M158.0 421.8h0M144.1 394.6h0M122.8 418.5h0M68.8 445.1h0M210.1 358.1h0M140.9 397.7h0M390.4 297.8h0M254.1 361.5h0M116.3 404.0h0M187.6 421.5h0M285.6 315.7h0M390.7 285.3h0M399.2 291.5h0M235.7 336.4h0M385.8 303.5h0M176.1 388.5h0M121.9 414.9h0M256.3 351.4h0M173.1 386.5h0M238.4 358.0h0M236.2 338.4h0M259.1 352.9h0M223.8 370.7h0M213.7 367.3h0M367.8 276.4h0M273.8 333.9h0M131.4 399.8h0M370.5 285.1h0M336.4 306.9h0M203.8 361.5h0M158.7 443.2h0M202.1 398.1h0M200.8 373.7h0M312.3 376.0h0M154.0 403.7h0M163.2 386.5h0M406.0 278.0h0M187.6 369.7h0M192.2 378.7h0M188.6 365.6h0M342.4 333.1h0M353.7 302.8h0M290.3 365.3h0M114.3 406.8h0M196.6 357.3h0M197.4 349.2h0M120.0 408.8h0M67.7 420.5h0M72.5 430.5h0M214.8 360.0h0M271.0 334.5h0M196.4 375.1h0M274.6 319.8h0M160.2 382.0h0M349.1 311.9h0M285.3 387.4h0M224.6 336.0h0M288.9 346.0h0M249.5 326.2h0M384.1 309.3h0M89.7 426.1h0M355.5 306.5h0M245.1 389.8h0M405.4 302.9h0M215.8 339.4h0M319.7 283.1h0M283.2 335.2h0M156.3 404.3h0M231.2 331.8h0M317.3 326.1h0M337.3 333.8h0M238.7 382.2h0M61.3 440.3h0M179.4 359.9h0M171.9 382.7h0M378.0 336.6h0M101.8 407.6h0M296.1 327.0h0M101.9 431.9h0M219.1 374.5h0M89.0 415.6h0M371.4 297.6h0M140.2 393.5h0M305.2 328.9h0M141.4 399.6h0M276.4 314.3h0M277.0 317.7h0M283.6 321.6h0M330.1 283.9h0M132.5 416.6h0M203.4 425.4h0M181.5 363.6h0M369.5 310.8h0M62.4 438.0h0M120.1 440.7h0M397.9 306.1h0M153.3 409.4h0M187.9 369.4h0M304.9 347.7h0M366.4 301.5h0M294.0 349.3h0M204.7 352.9h0M358.2 315.9h0M270.4 333.7h0M148.8 422.4h0M148.9 385.1h0M139.5 397.5h0M264.1 351.0h0M285.2 373.3h0M131.5 402.8h0M189.0 385.4h0M108.6 421.8h0M143.6 411.5h0M142.6 392.6h0M353.3 297.1h0M237.5 353.3h0M311.9 359.9h0M321.4 347.5h0M324.7 311.8h0M147.5 390.2h0M320.5 294.0h0M352.3 312.9h0M55.1 438.8h0M379.3 271.0h0M354.3 303.9h0M62.1 439.7h0M336.4 334.3h0M350.8 326.0h0M69.2 432.7h0M142.9 401.7h0M127.7 417.0h0M103.2 446.3h0M66.0 429.5h0M238.7 351.8h0M309.4 349.8h0M316.9 304.9h0M403.9 280.2h0M387.0 327.6h0M355.0 322.8h0M147.7 413.9h0M148.7 399.4h0M111.4 415.5h0M390.0 291.4h0M387.2 331.7h0M255.4 370.0h0M306.4 349.2h0M74.1 427.1h0M196.7 351.6h0M67.3 425.8h0M226.9 347.8h0M326.9 363.6h0M378.2 306.6h0M251.8 361.9h0M57.8 438.8h0M283.2 341.0h0M321.6 345.7h0M116.5 400.0h0M239.6 342.4h0M286.9 350.4h0M74.5 423.1h0M392.5 310.0h0M353.0 354.6h0M118.1 411.9h0M182.3 383.1h0M210.7 361.3h0M200.5 345.3h0M268.4 348.5h0M283.0 319.5h0M267.6 359.9h0M108.8 428.9h0M112.3 398.4h0M332.6 343.1h0M290.0 344.5h0M315.3 310.8h0M201.9 355.0h0M306.7 383.9h0M351.3 342.5h0M358.6 277.7h0M105.6 429.2h0M230.6 438.0h0M244.8 344.0h0M339.0 328.3h0M78.4 436.6h0M391.8 268.5h0M227.5 380.1h0M296.3 336.4h0M324.2 344.7h0M390.3 271.7h0M90.1 446.3h0M86.1 416.8h0M156.6 403.3h0M343.0 307.0h0M155.2 414.9h0M97.6 413.9h0M352.8 321.0h0M115.5 409.5h0M350.0 323.7h0M277.4 419.4h0M351.0 344.2h0M325.7 346.8h0M403.6 264.6h0M410.2 276.4h0M164.1 389.4h0M256.0 328.8h0M271.4 326.5h0M247.5 364.2h0M310.6 362.6h0M174.9 382.5h0M221.1 393.2h0M190.3 395.6h0M290.9 326.3h0M109.9 399.0h0M157.4 373.3h0M304.9 309.8h0M242.2 344.0h0M403.8 268.9h0M331.1 326.3h0M183.0 385.4h0M174.5 364.1h0M268.4 320.4h0M130.0 444.3h0M188.6 347.3h0M161.1 375.7h0M56.7 442.4h0M358.8 280.0h0M122.4 402.4h0M89.0 421.4h0M229.8 382.2h0M391.9 299.7h0M314.6 363.6h0M313.1 295.2h0M107.0 392.5h0M104.0 399.5h0M256.3 356.1h0M141.0 419.5h0M141.7 417.8h0M128.3 429.5h0M230.5 371.4h0M269.7 346.2h0M289.7 372.9h0M250.1 326.6h0M264.0 366.4h0M177.1 400.2h0M406.2 279.7h0M290.3 345.5h0M107.9 425.6h0M87.0 429.9h0M241.8 318.9h0M181.9 381.7h0M301.2 308.9h0M189.7 377.6h0M333.2 303.1h0M323.1 318.2h0M284.7 306.0h0M324.0 303.5h0M311.3 318.4h0M231.6 358.1h0M99.7 442.6h0M322.8 349.3h0M150.1 409.5h0M389.0 311.0h0M203.5 346.2h0M403.1 273.5h0M236.5 387.0h0M101.9 409.6h0M103.8 408.0h0M280.2 324.0h0M324.7 372.6h0M64.0 444.5h0M150.5 383.9h0M234.3 389.5h0M175.2 356.2h0M120.8 432.3h0M158.7 397.8h0M246.1 309.9h0M143.8 443.3h0M235.1 400.8h0M144.9 390.5h0M364.8 328.9h0M64.2 424.9h0M399.3 296.9h0M138.9 413.2h0M356.9 320.7h0M215.1 376.3h0M179.0 379.7h0M368.6 301.5h0M339.6 331.1h0M258.8 346.5h0M277.3 334.5h0M381.5 286.6h0M229.8 367.6h0M109.2 406.6h0M166.7 404.9h0M311.5 289.4h0M100.1 415.7h0M337.1 332.3h0M128.8 390.8h0M199.8 346.2h0M208.6 381.0h0M101.5 437.4h0M216.1 383.2h0M202.9 376.6h0M142.0 397.1h0M216.7 360.4h0M345.1 293.8h0M225.7 355.3h0M95.3 438.9h0M315.2 303.7h0M229.3 363.2h0M94.4 431.1h0M337.4 328.2h0M327.1 325.5h0M121.4 429.4h0M105.1 420.4h0M192.6 347.9h0M84.9 430.6h0M339.1 327.2h0M152.0 372.1h0M188.5 418.7h0M105.3 400.7h0M367.8 282.3h0M297.1 312.1h0M356.7 304.4h0M296.5 371.6h0M258.8 341.2h0M370.4 283.8h0M270.9 316.8h0M372.7 312.5h0M316.0 323.3h0M375.7 299.8h0M400.5 297.5h0M285.8 342.9h0M117.1 389.2h0M358.7 301.3h0M235.9 398.7h0M228.9 363.0h0M190.6 389.2h0M302.3 336.0h0M169.4 369.2h0M306.7 345.0h0M330.4 354.0h0M157.3 401.3h0M365.5 282.6h0M404.7 301.7h0M300.2 323.5h0M94.6 444.9h0M173.9 399.2h0M198.1 363.4h0M211.1 371.3h0M98.1 412.7h0M191.2 362.7h0M282.1 320.1h0M200.9 362.7h0M126.8 406.1h0M82.2 430.3h0M55.6 438.6h0M357.1 315.1h0M235.9 434.8h0M216.1 401.0h0M304.0 378.9h0M317.4 346.7h0M308.8 305.2h0M114.1 436.4h0M305.6 357.0h0M254.7 333.1h0M89.7 422.9h0M251.2 326.4h0M251.0 353.3h0M400.6 294.3h0M159.3 369.6h0M136.9 430.9h0M128.5 402.5h0M175.9 385.0h0M92.2 432.2h0M130.5 416.2h0M379.3 305.4h0M345.6 315.5h0M196.2 394.5h0M156.3 406.1h0M338.9 338.7h0M331.7 339.8h0M164.3 383.1h0M131.1 410.6h0M222.3 365.8h0M174.0 367.1h0M78.3 445.2h0M237.0 383.1h0M250.7 348.1h0M307.9 308.0h0M211.3 380.2h0M180.7 372.4h0M224.9 348.5h0M145.4 398.5h0M107.6 423.1h0M282.5 323.6h0M268.5 374.9h0M270.9 376.4h0M305.5 360.0h0M322.2 337.8h0M169.7 399.9h0M96.0 408.9h0M214.4 360.1h0M333.5 343.8h0M249.8 440.8h0M270.6 365.6h0M93.5 425.9h0M143.5 390.1h0M303.7 352.3h0M345.4 328.3h0M237.7 362.7h0M178.8 356.0h0M170.1 423.8h0M79.9 430.3h0M304.2 329.4h0M362.0 325.8h0M186.9 397.6h0M100.5 417.7h0M342.6 353.0h0M75.4 436.4h0M180.6 351.5h0M190.0 363.9h0M266.3 339.1h0M237.2 353.9h0M262.3 340.8h0M293.1 335.2h0M296.9 327.2h0M193.5 402.8h0M256.0 323.0h0M217.3 401.9h0M169.3 374.9h0M322.0 319.1h0M276.4 351.2h0M106.7 415.1h0M331.8 333.6h0M312.4 367.6h0M307.0 305.5h0M377.3 304.3h0M383.5 292.0h0M297.6 315.3h0M359.6 304.1h0M311.1 358.8h0M316.7 334.6h0M113.2 416.8h0M73.1 444.7h0M351.7 276.5h0M228.9 356.4h0M140.7 391.3h0M329.2 354.4h0M228.5 353.5h0M180.1 357.8h0M218.0 355.5h0M173.4 362.4h0M256.1 321.8h0M255.5 356.0h0M232.1 365.0h0M59.6 446.2h0M290.3 325.4h0M374.2 307.3h0M198.3 400.3h0M225.1 338.8h0M333.4 311.0h0M386.7 309.4h0M393.3 267.7h0M93.6 429.1h0M349.1 300.7h0M264.5 344.8h0M96.6 420.4h0M203.2 371.7h0M236.8 340.0h0M112.4 428.4h0M322.0 328.2h0M328.9 312.4h0M182.4 378.9h0M158.1 433.1h0M56.9 434.4h0M265.5 356.4h0M326.5 308.2h0M135.9 390.6h0M141.5 386.4h0M64.8 445.2h0M83.0 443.2h0M253.9 336.1h0M381.0 294.1h0M194.9 338.6h0M365.1 321.9h0M232.0 385.7h0M152.5 394.7h0M155.9 415.4h0M162.1 399.0h0M60.6 432.6h0M107.4 423.9h0M165.7 370.4h0M345.5 320.1h0M81.0 429.6h0M94.8 416.3h0M292.2 389.5h0M255.6 325.2h0M81.9 425.0h0M204.5 402.3h0M221.0 351.1h0M55.1 439.7h0M147.2 386.2h0M323.7 293.5h0M263.1 334.4h0M69.4 443.7h0M292.1 329.2h0M201.3 370.3h0M119.6 429.9h0M194.7 352.8h0M365.4 293.0h0M400.1 280.9h0M129.6 426.0h0M364.3 279.1h0M132.2 440.6h0M200.4 337.5h0M406.6 286.3h0M155.8 402.0h0M221.5 400.3h0M384.0 321.1h0M398.8 263.2h0M248.7 327.6h0M135.7 425.1h0M389.3 278.1h0M104.0 432.1h0M370.0 336.3h0M242.6 376.1h0M127.1 397.9h0M122.1 431.8h0M175.4 389.2h0M219.6 370.3h0M137.5 404.2h0M255.8 317.4h0M188.6 356.9h0M204.5 364.4h0M120.2 411.0h0M370.9 293.8h0M203.6 370.2h0M182.8 379.2h0M263.7 369.1h0M311.8 297.9h0M57.9 444.7h0M384.7 304.9h0M367.1 295.9h0M315.6 333.0h0M299.9 328.3h0M88.1 445.3h0M163.0 402.8h0M130.9 411.6h0M175.9 363.1h0M311.8 339.3h0M370.9 308.1h0M244.0 352.1h0M171.8 384.9h0M168.3 397.2h0M236.0 390.7h0M68.0 445.5h0M74.9 424.4h0M179.9 397.9h0M115.8 443.9h0M390.0 300.6h0M313.3 347.9h0M161.6 367.4h0M173.8 383.1h0M248.6 403.6h0M161.3 372.3h0M105.4 412.7h0M162.7 398.3h0M217.3 371.4h0M327.9 318.6h0M203.7 348.2h0M349.0 329.9h0M112.9 424.3h0M396.3 285.8h0M311.9 314.8h0M214.0 399.7h0M290.0 337.9h0M406.8 339.4h0M116.5 406.8h0M399.9 296.2h0M256.5 367.3h0M169.5 415.4h0M198.6 382.8h0M351.1 295.8h0M219.4 375.7h0M222.7 363.7h0M315.2 366.6h0M263.5 360.2h0M110.6 413.9h0M86.7 428.2h0M161.7 385.3h0M351.1 345.8h0M236.9 334.4h0M376.9 286.3h0M137.4 425.1h0M162.1 387.7h0M163.9 379.2h0M142.0 390.3h0M313.0 305.7h0M79.1 422.7h0M135.5 380.6h0M405.6 294.8h0M139.3 375.7h0M390.9 312.9h0M390.5 275.4h0M85.8 443.1h0M154.2 376.3h0M261.8 319.1h0M291.6 305.6h0M273.0 424.6h0M264.8 348.5h0M88.2 421.0h0M330.8 304.4h0M131.4 417.6h0M66.6 435.0h0M349.4 331.7h0M339.1 299.7h0M194.2 425.2h0M251.2 333.4h0M191.0 386.2h0M288.9 309.8h0M228.8 357.0h0M257.7 360.7h0M276.0 365.4h0M336.7 369.6h0M303.9 325.6h0M325.7 360.8h0M211.1 361.8h0M210.2 381.7h0M263.0 386.9h0M345.2 322.2h0M325.5 289.3h0M290.6 320.4h0M331.3 332.7h0M306.3 361.1h0M398.8 324.4h0M215.6 357.8h0M108.6 430.3h0M378.9 352.3h0M195.6 435.9h0M404.9 303.2h0M366.7 324.1h0M100.1 416.3h0M305.8 346.0h0M381.8 308.7h0M302.7 353.0h0M109.0 392.8h0M337.7 304.9h0M340.3 308.1h0M281.5 314.4h0M93.8 444.0h0M316.8 340.8h0M128.8 405.7h0M331.9 286.2h0M369.5 335.7h0M383.3 297.2h0M290.9 353.4h0M318.5 321.1h0M122.4 405.0h0M390.1 289.0h0M70.9 444.6h0M293.2 355.4h0M250.9 355.8h0M232.5 343.7h0M76.9 407.4h0M103.7 409.6h0M187.5 382.7h0M325.1 318.4h0M244.1 327.9h0M332.1 331.8h0M385.9 292.7h0M367.8 345.8h0M262.9 367.3h0M109.4 413.9h0M175.6 382.7h0M370.8 295.6h0M377.4 275.7h0M354.7 294.5h0M318.8 311.2h0M303.3 336.8h0M122.7 430.4h0M281.7 350.5h0M201.2 371.6h0M188.0 389.7h0M269.7 374.7h0M129.8 405.1h0M338.6 350.0h0M316.9 322.4h0M302.7 370.0h0M339.4 352.8h0M152.8 372.2h0M74.0 435.9h0M383.3 318.8h0M188.5 407.4h0M93.8 422.5h0M355.9 322.4h0M316.4 322.9h0M122.0 426.8h0M256.9 360.8h0M309.9 346.0h0M326.4 345.1h0M368.4 296.8h0M216.5 315.7h0M367.3 358.1h0M263.9 346.0h0M336.7 282.5h0M222.1 383.0h0M170.3 378.9h0M385.7 284.0h0M369.4 282.2h0M162.5 401.8h0M377.0 305.8h0M352.8 329.2h0M155.5 376.6h0M94.7 440.5h0M216.3 377.0h0M237.7 355.3h0M175.4 407.5h0M308.3 343.3h0M260.0 363.9h0M305.4 314.2h0M122.7 411.3h0M202.1 363.8h0M391.3 303.7h0M281.9 342.7h0M122.8 392.8h0M202.5 376.8h0M266.3 360.4h0M101.0 429.3h0M314.6 334.1h0M311.4 358.6h0M297.5 352.0h0M263.6 344.2h0M288.8 325.2h0M114.9 415.1h0M74.2 428.9h0M79.0 424.2h0M331.2 322.8h0M72.2 435.9h0M244.2 368.7h0M385.9 302.5h0M140.9 367.4h0M375.7 307.0h0M385.4 310.3h0M255.5 346.0h0M337.9 332.5h0M169.0 383.4h0M62.0 433.1h0M91.7 437.8h0M243.6 331.0h0M384.8 324.1h0M222.1 370.1h0M379.6 302.4h0M352.6 279.8h0M131.8 399.2h0M67.3 428.0h0M150.9 372.7h0M121.4 413.3h0M112.9 424.7h0M117.7 393.5h0M292.1 355.9h0M179.0 373.5h0M334.1 307.9h0M165.1 379.6h0M403.7 301.2h0M245.9 338.4h0M257.2 319.3h0M147.6 403.5h0M185.3 388.4h0M167.8 366.9h0M103.1 404.3h0M310.5 332.0h0M370.2 295.8h0M256.9 330.8h0M210.5 367.5h0M373.3 306.9h0M149.0 407.2h0M263.8 342.3h0M350.2 356.3h0M114.3 394.2h0M400.6 296.0h0M249.3 379.3h0M87.6 414.3h0M183.3 399.0h0M310.9 378.7h0M304.2 327.1h0M136.4 403.6h0M339.2 370.8h0M250.9 359.1h0M216.6 397.8h0M222.0 410.7h0M257.6 394.5h0M230.9 375.2h0M341.2 339.1h0M109.0 414.6h0M128.8 424.4h0M173.0 408.8h0M303.7 326.9h0M344.5 336.2h0M85.7 421.8h0M269.0 332.6h0M337.3 349.5h0M116.5 400.5h0M359.7 292.1h0M247.4 350.7h0M253.1 359.4h0M113.4 411.2h0M109.1 405.2h0M70.5 438.3h0M342.5 305.1h0M171.4 378.2h0M150.3 404.2h0M234.1 351.2h0M337.3 302.6h0M329.5 314.3h0M148.9 402.1h0M318.6 348.3h0M167.1 411.0h0M375.4 281.8h0M289.0 401.6h0M251.6 348.9h0M404.4 306.1h0M378.7 336.3h0M379.0 284.7h0M281.2 368.3h0M391.3 337.0h0M115.9 435.2h0M59.4 426.7h0M174.8 379.6h0M386.8 326.1h0M159.1 393.0h0M237.3 340.2h0M64.0 443.0h0M127.0 404.1h0M369.9 294.6h0M214.6 359.5h0M379.0 285.2h0M236.2 359.3h0M219.0 399.9h0M289.3 336.1h0M247.9 326.9h0M203.2 358.2h0M303.7 358.9h0M263.4 370.1h0M402.7 325.9h0M161.6 373.2h0M149.1 419.8h0M274.1 324.1h0M256.7 336.9h0M104.0 439.6h0M275.5 325.0h0M365.0 261.9h0M371.7 300.7h0M104.9 424.1h0M94.9 408.1h0M251.7 350.3h0M372.0 354.2h0M345.7 298.0h0M61.1 443.4h0M317.6 327.5h0M204.2 363.5h0M285.6 313.9h0M247.9 347.2h0M172.8 366.5h0M261.9 337.1h0M127.4 428.4h0M317.6 305.0h0M248.7 376.9h0M156.5 392.0h0M210.0 363.0h0M398.2 299.6h0M379.7 283.5h0M357.7 339.2h0M276.0 351.7h0M89.3 420.2h0M134.7 395.6h0M223.7 399.4h0M274.5 323.8h0M188.6 392.8h0M144.1 395.2h0M155.6 412.3h0M96.4 421.1h0M409.4 308.1h0M296.6 304.2h0M259.4 412.9h0M76.0 446.5h0M345.2 302.1h0M231.6 399.5h0M203.5 377.0h0M332.5 329.8h0M282.2 369.2h0M164.7 426.8h0M243.9 368.9h0M283.1 312.0h0M56.8 429.2h0M90.6 425.1h0M317.5 344.9h0M153.4 386.1h0M220.3 363.6h0M137.8 416.1h0M178.2 373.7h0M83.2 435.7h0M276.1 362.6h0M184.9 389.7h0M167.4 385.7h0M235.5 369.2h0M386.0 288.5h0M80.8 433.1h0M373.7 302.8h0M340.8 343.2h0M221.8 377.6h0M316.8 318.1h0M263.6 353.4h0M286.4 320.2h0M282.8 340.7h0M136.6 386.1h0M337.3 338.5h0M269.9 343.7h0M216.9 365.2h0M66.6 429.7h0M216.6 377.7h0M357.3 314.4h0M373.3 331.0h0M142.2 414.3h0M233.2 318.4h0M101.8 439.2h0M81.8 445.9h0M404.0 304.1h0M90.6 413.0h0M101.7 428.3h0M136.2 404.6h0M229.6 395.7h0M203.9 370.5h0M400.6 274.8h0M69.3 423.5h0M90.2 442.2h0M107.8 432.4h0M94.0 409.4h0M132.2 425.0h0M217.1 358.6h0M220.0 350.5h0M181.5 370.5h0M316.6 326.7h0M129.8 427.0h0M315.3 326.5h0M143.6 378.1h0M176.1 379.6h0M80.8 436.5h0M317.3 347.3h0M158.2 390.9h0M379.4 322.2h0M162.5 381.2h0M399.8 285.5h0M133.4 401.1h0M272.6 359.6h0M196.2 385.5h0M59.1 434.1h0M240.2 326.8h0M184.7 368.0h0M372.0 299.1h0M74.9 430.9h0M329.4 325.1h0M135.4 437.2h0M215.4 390.6h0M224.8 354.3h0M141.2 421.3h0M292.4 360.1h0M249.5 366.6h0M289.0 304.6h0M215.6 339.3h0M285.0 389.9h0M321.6 317.9h0M236.8 367.6h0M307.6 332.6h0M297.0 328.5h0M261.2 321.5h0M147.7 417.9h0M394.4 327.2h0M328.3 321.8h0M223.0 359.6h0M89.6 425.1h0M154.6 411.3h0M245.0 406.3h0M358.1 308.6h0M193.7 339.5h0M243.6 393.4h0M369.8 334.9h0M350.2 297.6h0M139.1 409.2h0M157.4 401.3h0M275.2 313.9h0M131.3 402.5h0M281.5 386.8h0M301.2 302.2h0M229.1 349.1h0M306.2 319.7h0M125.9 392.4h0M229.4 324.2h0M408.1 301.1h0M264.2 355.1h0M345.0 353.2h0M258.5 334.9h0M132.6 407.4h0M329.2 330.5h0M62.9 431.3h0M169.2 392.0h0M261.6 408.0h0M139.8 385.0h0M316.6 316.1h0M131.5 420.4h0M94.9 421.9h0M205.5 444.3h0M126.9 422.7h0M143.7 446.5h0M317.0 340.4h0M332.6 333.2h0M246.6 328.8h0M101.5 428.0h0M91.8 429.6h0M378.4 303.5h0M251.4 355.0h0M270.5 344.7h0M263.2 398.2h0M256.0 330.1h0M81.3 436.8h0M373.7 309.2h0M163.6 416.9h0M196.4 353.1h0M252.3 355.4h0M391.6 288.2h0M126.6 402.3h0M326.2 340.7h0M177.1 355.9h0M249.6 396.1h0M60.3 440.3h0M297.3 319.4h0M73.6 428.1h0M227.7 348.6h0M316.0 352.4h0M407.5 282.5h0M262.6 328.3h0M213.9 389.3h0M364.2 295.8h0M271.1 354.4h0M127.5 387.3h0M101.6 443.9h0M147.8 410.4h0M349.1 309.7h0M129.8 423.8h0M311.3 332.9h0M129.9 402.3h0M237.6 339.9h0M241.4 345.4h0M350.9 346.5h0M263.8 349.1h0M394.1 286.2h0M208.3 398.0h0M291.2 341.1h0M340.3 303.0h0M210.3 362.8h0M392.3 262.3h0M162.9 396.3h0M168.4 361.4h0M237.4 349.5h0M220.9 376.6h0M161.5 364.6h0M172.7 357.5h0M337.6 375.0h0M319.5 323.3h0M379.1 325.6h0M255.1 353.1h0M136.1 405.6h0M156.3 411.1h0M140.8 415.0h0M78.9 424.9h0M320.9 318.3h0M320.3 290.6h0M272.8 316.5h0M203.7 355.5h0M378.0 324.2h0M106.5 439.1h0M235.9 322.4h0M331.9 331.0h0M348.1 318.8h0M257.3 381.3h0M111.9 402.0h0M151.3 429.0h0M376.8 338.9h0M255.1 330.0h0M371.9 316.0h0M369.2 306.8h0M372.2 295.1h0M149.3 400.1h0M357.7 346.1h0M293.8 314.6h0M377.6 279.1h0M357.7 297.6h0M122.0 403.7h0M183.0 399.1h0M251.0 343.6h0M405.0 337.4h0M313.5 347.8h0M76.2 428.1h0M202.5 389.5h0M125.6 413.9h0M156.3 408.6h0M193.1 348.6h0M102.9 412.5h0M117.8 397.0h0M371.5 284.0h0M277.8 334.6h0M156.9 388.3h0M322.2 322.4h0M326.5 319.6h0M298.4 341.2h0M405.6 276.5h0M312.3 326.5h0M102.5 414.6h0M135.1 394.2h0M121.2 433.8h0M230.8 343.9h0M224.2 387.7h0M343.9 324.4h0M154.0 378.2h0M223.4 363.5h0M208.9 338.5h0M153.4 423.3h0M170.3 404.0h0M302.8 331.6h0M150.0 396.6h0M87.6 438.4h0M297.5 348.0h0M362.9 287.1h0M282.6 323.4h0M311.9 332.4h0M169.5 397.2h0M408.1 273.5h0M65.0 434.9h0M223.6 344.9h0M170.0 403.9h0M314.1 361.9h0M195.0 356.1h0M264.8 427.9h0M159.0 383.7h0M274.4 376.2h0M126.1 396.8h0M100.9 415.6h0M283.5 325.7h0M298.1 328.0h0M143.2 388.1h0M100.9 431.2h0M325.2 367.1h0M248.8 346.9h0M391.0 305.4h0M157.7 396.4h0M329.3 299.3h0M203.1 356.3h0M367.6 300.2h0M317.1 321.3h0M140.3 391.4h0M150.1 408.5h0M231.2 441.6h0M261.7 366.6h0M240.8 346.4h0M161.8 412.5h0M108.0 426.2h0M384.3 299.6h0M60.3 430.5h0M259.8 373.6h0M355.6 320.3h0M249.5 332.5h0M176.3 382.2h0M81.4 444.2h0M401.9 332.5h0M93.3 435.5h0M198.5 385.3h0M332.2 355.4h0M391.0 304.9h0M176.9 371.0h0M135.5 393.3h0M155.8 406.9h0M210.4 350.1h0M292.5 327.3h0M97.8 435.1h0M216.8 410.1h0M95.6 430.2h0M176.4 384.2h0M191.9 348.0h0M293.6 383.5h0M375.4 333.2h0M56.7 443.5h0M196.1 372.1h0M333.4 380.3h0M148.1 395.9h0M224.1 385.1h0M216.0 415.6h0M153.7 390.8h0M124.7 427.0h0M210.4 365.9h0M196.7 397.9h0M251.1 326.8h0M378.4 320.7h0M225.0 364.9h0M130.2 397.3h0M376.3 277.2h0M290.3 368.8h0M140.3 398.3h0M280.0 324.3h0M270.0 332.9h0M198.6 346.0h0M277.4 330.3h0M373.3 297.2h0M257.9 378.8h0M276.5 347.4h0M356.3 296.2h0M128.3 405.3h0M174.1 390.4h0M300.5 346.1h0M237.2 360.6h0M189.4 376.2h0M155.4 398.0h0M150.0 401.6h0M117.0 420.1h0M130.0 405.0h0M141.7 411.0h0M263.4 379.7h0M72.3 429.3h0M317.0 311.8h0M185.0 377.6h0M389.1 328.3h0M162.8 376.6h0M231.9 369.9h0M101.4 414.3h0M349.7 296.7h0M335.3 329.3h0M175.6 407.6h0M315.2 352.9h0M182.3 419.2h0M247.9 338.9h0M129.7 437.8h0M126.7 394.4h0M174.5 378.5h0M96.9 427.6h0M120.3 416.1h0M154.6 389.7h0M329.6 290.5h0M58.4 442.9h0M164.2 370.6h0M308.1 327.1h0M217.8 366.2h0M135.1 389.3h0M82.9 436.7h0M115.8 412.8h0M358.1 319.4h0M93.9 425.3h0M345.2 311.6h0M116.6 407.1h0M359.0 280.2h0M141.5 394.3h0M394.9 314.4h0M167.3 375.7h0M99.7 408.1h0M225.2 358.9h0M258.2 328.8h0M249.5 426.9h0M89.2 428.6h0M224.7 366.7h0M217.1 349.2h0M370.6 282.6h0M193.3 410.7h0M277.6 364.7h0M337.8 307.1h0M183.8 368.6h0M129.8 388.8h0M96.9 414.0h0M280.9 369.3h0M316.6 335.2h0M223.1 357.1h0M350.1 291.9h0M163.3 446.3h0M280.6 322.5h0M89.3 442.9h0M242.1 328.5h0M214.9 392.4h0M132.2 417.0h0M332.3 353.1h0M91.1 410.2h0M297.1 317.3h0M290.9 304.3h0M346.4 314.9h0M263.2 337.4h0M200.4 365.7h0M274.4 320.1h0M101.0 425.6h0M194.8 385.9h0M203.0 370.7h0M197.0 385.3h0M404.8 310.1h0M216.3 380.0h0M378.1 269.4h0M359.5 272.5h0M168.6 370.0h0M332.5 314.9h0M261.2 375.5h0M355.1 309.2h0M377.8 321.4h0M114.3 409.9h0M216.0 382.4h0M189.4 415.1h0M384.0 310.4h0M142.5 414.8h0M337.3 305.4h0M323.1 329.0h0M117.4 407.4h0M69.6 419.6h0M76.1 424.9h0M284.7 346.8h0M200.6 353.3h0M270.2 344.8h0M342.2 312.6h0M330.7 284.8h0M150.8 398.8h0M71.1 433.8h0M236.3 370.4h0M364.9 325.0h0M210.0 341.4h0M225.8 370.7h0M201.2 386.8h0M61.6 444.6h0M242.1 348.9h0M275.7 338.1h0M61.9 429.9h0M242.6 374.3h0M298.5 336.9h0M297.4 350.6h0M204.2 347.5h0M248.0 392.9h0M264.2 336.4h0M210.7 370.3h0M146.7 387.6h0M338.0 333.9h0M269.4 340.2h0M358.3 302.9h0M317.6 343.2h0M359.0 339.8h0M114.4 408.9h0M76.2 429.1h0M376.8 313.8h0M337.2 320.4h0M351.9 351.8h0M348.7 312.4h0M195.8 350.2h0M132.2 408.8h0M96.9 443.7h0M235.1 339.2h0M357.0 324.4h0M340.0 325.5h0M287.2 320.5h0M89.7 416.3h0M271.1 374.5h0M216.6 386.3h0M235.3 383.2h0M376.2 300.0h0M115.7 431.6h0M189.5 339.0h0M143.7 398.2h0M215.2 407.7h0M202.7 388.1h0M256.8 338.9h0M318.3 337.2h0M359.2 346.3h0M406.0 323.3h0M143.7 395.9h0M364.2 311.3h0M76.3 436.4h0M379.6 349.0h0M275.9 323.5h0M323.3 310.0h0M126.8 388.7h0M274.1 335.2h0M261.5 363.6h0M356.1 292.9h0M211.0 348.2h0M332.3 318.3h0M330.0 346.1h0M143.7 421.7h0M95.3 410.6h0M378.9 334.5h0M123.0 426.4h0M351.0 322.7h0M273.9 383.5h0M323.9 325.7h0M270.3 373.4h0M344.6 333.5h0M269.8 371.7h0M122.7 410.3h0M222.9 377.6h0M146.6 423.6h0M209.6 412.5h0M282.3 344.2h0M303.2 368.6h0M255.4 323.8h0M157.7 424.0h0M261.4 338.1h0M148.9 401.7h0M290.2 331.1h0M348.5 327.8h0M180.0 408.6h0M215.3 390.4h0M209.0 390.6h0M343.5 351.8h0M330.7 337.4h0M76.2 446.2h0M169.3 385.7h0M372.1 311.8h0M363.5 348.4h0M265.2 342.9h0M114.0 417.8h0M98.9 421.1h0M206.3 352.3h0M311.6 342.7h0M324.8 317.1h0M399.0 305.7h0M243.1 355.9h0M214.8 427.0h0M110.0 404.5h0M244.2 327.8h0M109.2 413.2h0M168.2 390.8h0M401.6 316.9h0M302.3 390.8h0M159.1 401.7h0M371.2 337.2h0M88.8 440.6h0M270.8 340.7h0M398.8 294.2h0M67.8 443.6h0M91.1 424.1h0M396.5 310.1h0M246.5 368.7h0M378.0 311.9h0M129.6 424.0h0M216.2 375.5h0M99.6 443.3h0M117.2 408.6h0M407.4 293.7h0M124.8 409.1h0M136.0 425.2h0M215.3 352.3h0M128.7 416.1h0M261.4 328.7h0M63.5 425.3h0M174.7 398.2h0M370.4 300.3h0M174.5 377.1h0M202.1 370.8h0M94.2 443.1h0M249.8 335.9h0M165.4 399.4h0M291.4 362.1h0M167.7 375.7h0M250.9 377.1h0M127.1 424.7h0M156.8 396.8h0M281.8 372.8h0M291.2 330.6h0M361.2 319.2h0M77.8 442.9h0M133.9 416.8h0M315.2 358.5h0M367.2 268.8h0M343.2 298.1h0M256.5 351.9h0M351.5 362.8h0M145.6 397.1h0M189.4 407.1h0M182.1 366.9h0M242.1 395.2h0M262.3 336.5h0M82.0 427.9h0M356.5 300.7h0M194.9 384.9h0M147.7 392.6h0M164.0 398.8h0M225.5 335.7h0M378.1 314.5h0M343.9 303.9h0M176.1 400.1h0M129.4 388.8h0M305.3 336.8h0M283.6 321.3h0M137.2 373.9h0M376.5 280.0h0M243.7 340.7h0M196.1 379.5h0M175.5 389.3h0M387.9 313.5h0M296.9 351.4h0M67.3 424.7h0M223.2 343.0h0M216.0 375.1h0M74.4 434.6h0M120.2 410.2h0M181.5 354.8h0M204.4 376.8h0M337.5 305.5h0M210.0 384.8h0M120.8 386.3h0M245.3 392.4h0M101.7 407.8h0M298.0 348.6h0M229.8 333.5h0M349.5 372.8h0M335.7 296.0h0M100.2 423.3h0M211.6 381.5h0M149.0 401.8h0M252.4 354.6h0M277.5 322.2h0M62.2 444.8h0M344.1 302.9h0M242.3 338.4h0M210.1 356.7h0M191.8 378.7h0M386.5 314.5h0M282.8 356.7h0M100.6 430.8h0M372.0 286.1h0M138.0 394.1h0M216.0 382.5h0M168.0 418.6h0M235.3 340.0h0M241.5 357.1h0M201.4 362.2h0M155.5 443.1h0M220.2 343.5h0M159.1 385.3h0M337.6 318.1h0M194.1 372.4h0M291.1 348.3h0M226.4 382.0h0M268.5 371.1h0M226.6 392.8h0M226.4 381.4h0M287.8 299.6h0M242.9 348.5h0M145.6 427.4h0M56.3 445.3h0M304.6 344.0h0M404.9 327.6h0M105.7 433.4h0M324.9 320.9h0M385.9 272.3h0M90.2 437.1h0M392.2 293.1h0M224.1 350.9h0M318.7 332.5h0M64.4 444.8h0M358.3 344.3h0M271.8 327.7h0M363.4 314.1h0M75.8 433.9h0M104.6 413.6h0M62.4 431.2h0M337.1 310.8h0M268.6 344.9h0M328.5 294.8h0M299.4 340.8h0M404.1 294.5h0M210.3 380.3h0M262.8 358.4h0M101.6 418.6h0M95.6 432.7h0M275.9 331.7h0M91.8 408.7h0M103.8 430.7h0M217.4 353.3h0M99.3 423.2h0M101.5 429.1h0M243.9 392.7h0M204.7 360.4h0M283.2 368.0h0M351.9 323.4h0M121.5 425.6h0M109.4 396.7h0M149.8 389.6h0M277.8 328.3h0M351.6 338.9h0M367.1 332.1h0M305.6 331.3h0M96.5 406.0h0M323.8 336.2h0M241.9 382.9h0M399.4 285.2h0M371.9 269.1h0M325.0 329.3h0M114.5 396.1h0M261.9 337.0h0M111.7 426.0h0M215.1 370.0h0M406.4 308.6h0M54.9 445.0h0M102.6 416.0h0M231.1 373.9h0M325.2 307.1h0M235.5 314.8h0M243.2 339.0h0M270.3 372.0h0M288.5 396.7h0M102.1 410.2h0M65.3 428.5h0M337.3 342.3h0M216.5 394.0h0M215.9 371.7h0M233.9 374.1h0M237.2 417.0h0M213.4 365.9h0M406.2 264.4h0M250.0 337.9h0M385.1 271.1h0M208.7 369.8h0M76.5 436.3h0M68.8 440.8h0M327.5 349.1h0M171.8 385.6h0M209.0 354.0h0M393.0 331.7h0M343.4 288.7h0M264.7 321.9h0M380.2 295.4h0M114.8 416.3h0M79.4 429.0h0M296.8 307.3h0M60.6 444.7h0M337.6 330.5h0M364.8 316.4h0M221.0 356.4h0M285.8 363.3h0M292.0 327.5h0M128.8 435.1h0M278.3 383.8h0M404.6 295.0h0M100.9 421.7h0M100.7 415.1h0M94.4 408.7h0M328.3 359.0h0M175.2 377.5h0M143.3 405.4h0M394.9 313.6h0M303.0 349.6h0M127.5 399.2h0M102.9 420.8h0M305.9 321.9h0M74.2 444.6h0M252.2 344.3h0M125.6 395.5h0M274.1 324.6h0M164.8 372.3h0M234.0 375.7h0M369.8 339.9h0M189.2 359.1h0M363.2 305.2h0M250.5 340.5h0M383.3 289.8h0M411.5 291.8h0M203.4 372.8h0M363.4 344.4h0M330.9 336.2h0M135.2 405.7h0M240.4 325.5h0M74.6 445.5h0M399.7 303.9h0M148.4 405.5h0M311.9 315.0h0M321.9 340.0h0M104.8 430.6h0M55.1 440.6h0M208.3 351.1h0M120.0 415.6h0M189.5 371.3h0M89.7 443.6h0M271.7 356.0h0M312.0 346.9h0M239.6 394.4h0M150.7 412.4h0M75.0 445.4h0M283.9 306.8h0M157.1 409.9h0M329.6 301.0h0M135.2 415.0h0M124.8 423.7h0M357.5 326.1h0M191.9 353.7h0M88.9 439.3h0M355.9 307.9h0M165.5 387.4h0M399.5 313.6h0M165.5 376.3h0M129.9 417.6h0M225.9 357.8h0M154.9 407.7h0M340.7 320.2h0M220.2 349.6h0M86.1 437.5h0M207.9 358.9h0M311.0 347.5h0M74.0 420.0h0M147.1 406.8h0M336.7 321.1h0M108.6 418.5h0M156.0 377.9h0M202.5 359.5h0M264.3 337.1h0M230.4 361.7h0M76.1 443.2h0M209.3 383.4h0M270.3 333.2h0M320.8 307.1h0M105.7 411.9h0M117.7 431.1h0M295.9 337.3h0M88.1 436.1h0M183.2 372.2h0M303.1 343.0h0M378.1 323.3h0M88.4 424.9h0M177.5 377.2h0M67.0 438.8h0M165.8 375.3h0M330.4 355.2h0M389.1 329.7h0M344.2 329.1h0M129.3 397.1h0M312.1 336.9h0M256.5 354.6h0M81.0 424.8h0M234.9 331.7h0M143.5 402.3h0M142.5 393.1h0M318.3 299.6h0M295.3 339.9h0M228.9 358.9h0M343.7 303.2h0M187.1 349.1h0M100.4 423.9h0M242.6 342.3h0M391.4 316.3h0M111.8 416.8h0M284.4 330.0h0M169.9 372.6h0M136.0 408.3h0M395.4 311.9h0M124.4 426.4h0M263.9 318.1h0M68.6 428.4h0M142.1 398.1h0M118.8 429.9h0M93.8 445.8h0M153.2 444.6h0M331.6 320.2h0M131.7 406.2h0M109.0 401.6h0M407.3 270.4h0M117.1 421.6h0M371.5 287.7h0M370.7 265.4h0M232.5 347.5h0M225.5 381.4h0M95.5 417.8h0M57.3 421.2h0M117.5 411.6h0M225.0 407.2h0M364.0 356.1h0M176.4 410.3h0M340.4 303.1h0M381.9 330.2h0M216.7 393.9h0M334.0 350.9h0M165.6 377.6h0M148.6 421.5h0M376.5 306.1h0M185.8 385.2h0M346.8 355.6h0M263.2 363.9h0M317.2 347.0h0M291.7 381.8h0M83.4 422.4h0M254.3 390.3h0M331.4 306.5h0M377.9 260.6h0M175.7 375.1h0M200.9 374.1h0M152.0 409.1h0M147.1 391.5h0M207.4 346.7h0M248.2 352.4h0M276.8 337.6h0M355.2 294.9h0M391.9 277.8h0M128.8 421.5h0M246.2 384.1h0M241.7 320.5h0M162.6 406.8h0M120.3 409.8h0M303.6 324.2h0M72.9 436.7h0M173.5 404.2h0M338.6 311.2h0M224.7 384.3h0M188.5 356.2h0M89.7 408.7h0M234.9 342.7h0M100.3 408.4h0M257.6 374.5h0M155.9 394.9h0M270.6 330.8h0M351.3 283.1h0M272.0 335.6h0M405.8 307.0h0M266.2 345.5h0M361.8 301.1h0M283.0 306.9h0M212.5 370.4h0M321.8 359.2h0M346.5 349.3h0M308.9 352.5h0M304.6 334.0h0M300.2 417.8h0M89.3 432.0h0M92.1 421.2h0M264.7 363.1h0M215.4 366.9h0M100.7 410.7h0M342.9 349.4h0M297.6 335.9h0M193.7 359.8h0M269.7 319.6h0M287.4 388.6h0M312.1 335.2h0M87.4 432.9h0M343.9 296.1h0M125.3 402.2h0M319.4 300.2h0M274.7 351.9h0M249.4 372.6h0M118.9 418.5h0M261.0 373.9h0M305.2 352.0h0M95.0 439.3h0M135.0 387.3h0M216.2 337.4h0M226.1 375.5h0M120.1 407.1h0M403.4 261.0h0M311.9 298.3h0M256.4 330.6h0M368.6 309.9h0M323.8 346.3h0M262.1 390.4h0M216.3 366.8h0M160.6 365.4h0M206.6 374.6h0M234.0 350.7h0M231.2 353.1h0M240.2 376.0h0M115.1 394.4h0M175.5 399.6h0M350.5 338.8h0M236.7 342.9h0M65.2 435.8h0M378.9 311.1h0M90.9 394.4h0M177.8 394.0h0M397.6 315.3h0M154.2 372.9h0M86.8 414.8h0M318.0 329.5h0M359.6 303.0h0M87.6 439.4h0M364.6 290.9h0M122.9 425.1h0M136.9 416.0h0M277.4 365.3h0M341.9 334.2h0M204.1 339.2h0M160.2 416.1h0M364.0 293.3h0M194.8 388.2h0M162.7 403.9h0M291.9 306.8h0M95.8 404.3h0M269.2 391.1h0M343.5 287.3h0M285.7 347.7h0M360.5 313.8h0M353.0 347.6h0M218.8 350.8h0M217.7 372.1h0M97.2 414.1h0M211.4 350.9h0M338.8 318.2h0M186.8 349.4h0M391.2 288.8h0M230.2 383.5h0M384.4 325.1h0M391.6 303.4h0M397.3 313.6h0M165.0 406.0h0M405.4 288.1h0M110.7 415.5h0M377.5 307.7h0M196.5 365.6h0M300.4 313.5h0M331.3 327.9h0M95.2 433.6h0M384.2 279.6h0M244.9 326.8h0M355.8 320.4h0M367.7 305.1h0M284.7 327.2h0M162.5 374.2h0M87.4 443.8h0M89.5 426.9h0M356.9 309.4h0M242.7 382.5h0M87.8 419.7h0M76.4 444.9h0M319.0 331.5h0M228.8 370.8h0M174.9 391.2h0M190.9 344.6h0M175.7 361.6h0M54.8 443.0h0M134.4 397.3h0M197.9 370.5h0M205.4 385.2h0M345.0 295.3h0M290.7 323.4h0M196.5 341.6h0M217.3 371.8h0M342.9 311.1h0M202.2 351.9h0M358.5 308.3h0M145.3 382.1h0M197.5 418.3h0M111.0 413.3h0M352.1 306.1h0M339.1 299.9h0M361.7 318.1h0M214.6 384.1h0M255.5 348.2h0M356.7 297.8h0M87.0 443.0h0M290.0 324.7h0M362.5 339.6h0M195.2 375.5h0M68.6 437.9h0M367.3 305.5h0M157.2 412.2h0M242.9 360.2h0M107.1 421.3h0M356.4 343.2h0M347.8 347.5h0M175.2 377.0h0M404.5 279.7h0M134.5 407.2h0M146.7 381.0h0M181.4 374.1h0M65.1 423.6h0M215.6 377.8h0M212.9 338.6h0M72.4 443.9h0M67.3 437.8h0M222.3 420.6h0M370.3 284.7h0M90.4 422.5h0M325.0 308.5h0M203.5 349.6h0M241.5 384.0h0M357.6 286.4h0M156.4 392.1h0M124.3 432.1h0M134.0 404.6h0M220.5 336.3h0M195.9 364.0h0M343.4 307.6h0M384.1 298.1h0M310.0 348.8h0M271.5 350.3h0M322.3 392.3h0M188.0 374.7h0M256.9 334.6h0M317.0 345.7h0M108.4 403.5h0M204.7 385.0h0M301.5 304.7h0M297.7 308.5h0M213.5 385.8h0M268.7 344.1h0M248.4 396.1h0M93.2 424.6h0M357.3 306.7h0M346.3 319.9h0M205.1 401.0h0M372.7 300.4h0M162.4 399.2h0M228.5 329.6h0M240.5 362.9h0M285.3 335.0h0M236.6 343.5h0M385.2 291.2h0M179.1 362.9h0M107.3 386.2h0M345.5 326.1h0M391.9 266.5h0M76.0 418.6h0M67.3 429.7h0M172.0 416.8h0M259.4 336.3h0M82.9 441.1h0M204.8 364.4h0M269.9 344.4h0M353.2 343.9h0M295.5 305.7h0M181.5 417.3h0M244.6 337.2h0M203.8 380.7h0M214.1 388.1h0M250.0 329.7h0M347.2 298.8h0M292.2 341.9h0M58.4 429.1h0M392.5 326.7h0M86.0 424.3h0M196.6 353.9h0M407.3 342.9h0M112.2 396.3h0M170.5 370.3h0M128.0 403.4h0M119.9 431.9h0M182.4 368.1h0M258.8 337.2h0M133.4 395.7h0M304.7 361.8h0M251.2 333.2h0M345.3 331.4h0M369.5 341.9h0M376.7 299.7h0M209.8 374.9h0M175.9 355.0h0M290.2 305.5h0M209.3 385.4h0M363.5 337.1h0M229.0 361.9h0M175.4 383.7h0M75.8 434.3h0M296.8 314.7h0M93.4 409.6h0M403.8 284.0h0M329.0 323.1h0M95.8 415.3h0M351.0 327.9h0M387.7 311.6h0M204.1 349.5h0M126.2 409.8h0M145.0 388.5h0M223.2 349.5h0M376.4 293.8h0M339.2 330.8h0M275.6 315.9h0M258.9 348.1h0M154.5 401.3h0M81.0 413.4h0M211.0 422.1h0M175.6 364.5h0M304.4 354.4h0M370.9 309.9h0M191.5 367.2h0M404.6 324.3h0M93.4 428.8h0M310.9 352.3h0M283.2 341.0h0M109.6 415.2h0M58.5 445.3h0M363.7 300.8h0M224.1 356.0h0M251.5 379.8h0M317.8 330.6h0M283.8 346.5h0M231.8 345.1h0M406.8 312.5h0M347.0 309.1h0M128.9 400.6h0M89.6 427.6h0M395.4 266.4h0M210.1 384.2h0M253.1 375.7h0M304.7 319.1h0M363.5 328.0h0M178.1 387.4h0M86.7 415.9h0M114.5 426.8h0M232.9 368.2h0M275.5 361.6h0M359.0 316.9h0M363.3 339.7h0M331.7 286.6h0M80.7 439.0h0M261.5 368.6h0M151.0 395.7h0M214.7 384.0h0M126.9 388.6h0M189.8 392.3h0M332.9 359.2h0M245.3 362.1h0M314.2 340.9h0M363.9 304.7h0M290.2 357.3h0M255.6 344.5h0M314.0 343.7h0M216.6 396.5h0M195.7 363.0h0M121.5 409.1h0M295.5 356.0h0M191.4 364.5h0M370.4 304.8h0M254.3 376.9h0M306.3 318.3h0M195.5 353.1h0M118.1 423.7h0M263.0 334.1h0M178.1 377.9h0M78.2 414.5h0M336.8 298.0h0M213.7 366.8h0M201.5 365.8h0M314.3 313.9h0M207.1 394.4h0M170.3 379.2h0M297.7 354.1h0M280.5 364.5h0M215.4 370.2h0M399.6 335.4h0M241.4 354.8h0M251.6 378.5h0M78.3 412.1h0M406.2 262.4h0M195.2 396.7h0M363.2 308.0h0M95.5 413.4h0M185.5 410.9h0M350.8 286.0h0M344.9 294.8h0M181.7 404.8h0M101.5 392.5h0M241.5 368.1h0M251.0 325.1h0M274.5 359.5h0M148.4 405.4h0M325.5 355.2h0M174.8 379.5h0M205.1 370.9h0M326.4 325.8h0M192.9 363.0h0M69.0 426.3h0M391.7 327.6h0M317.5 349.6h0M100.5 446.2h0M232.1 398.4h0M316.1 291.9h0M333.0 293.7h0M363.6 319.5h0M182.4 379.3h0M305.1 368.6h0M229.5 381.0h0M390.4 292.2h0M229.9 391.1h0M242.6 342.7h0M356.0 312.8h0M127.7 415.5h0M115.5 393.3h0M160.3 370.4h0M349.1 346.7h0M297.1 396.4h0M205.2 376.4h0M274.0 350.6h0M271.0 349.6h0M106.3 435.3h0M356.4 299.2h0M377.9 302.2h0M322.7 329.0h0M291.1 330.7h0M302.6 326.8h0M358.8 316.4h0M282.2 385.5h0M116.5 435.0h0M364.3 284.7h0M343.5 341.0h0M290.9 340.4h0M115.0 396.9h0M142.2 442.1h0M277.4 323.4h0M218.9 381.2h0M393.1 278.9h0M323.8 332.0h0M55.3 442.2h0M296.1 347.5h0M237.5 392.8h0M113.8 413.9h0M398.4 289.2h0M120.6 415.3h0M358.8 328.6h0M344.8 326.6h0M219.1 350.7h0M118.2 416.7h0M270.4 370.3h0M277.2 344.7h0M189.4 404.8h0M358.1 319.9h0M309.7 359.2h0M242.4 385.2h0M193.6 355.6h0M191.7 377.7h0M89.5 430.6h0M382.8 355.1h0M280.3 343.7h0M177.4 385.5h0M259.9 386.3h0M219.9 438.0h0M89.6 439.0h0M127.5 418.1h0M142.5 375.7h0M185.0 353.5h0M200.9 406.1h0M365.2 337.9h0M380.2 330.6h0M238.9 380.7h0M225.2 375.2h0M266.7 335.6h0M270.8 332.2h0M125.4 425.9h0M197.4 358.9h0M380.0 327.8h0M244.2 355.7h0M174.6 357.5h0M345.1 324.5h0M202.0 380.1h0M224.3 385.1h0M76.3 436.1h0M263.1 333.3h0M126.8 395.8h0M275.5 355.4h0M401.9 307.4h0M363.6 288.1h0M120.7 423.9h0M399.2 345.1h0M245.0 337.3h0M291.2 358.1h0M197.1 374.4h0M323.8 309.5h0M255.8 358.9h0M308.7 356.4h0M352.3 328.2h0M366.5 326.4h0M290.3 305.8h0M367.1 306.5h0M131.9 408.5h0M357.4 327.0h0M261.8 352.0h0M249.5 343.5h0M211.3 386.8h0M76.6 424.0h0M235.3 364.1h0M358.4 316.5h0M217.4 346.4h0M215.8 382.8h0M290.9 308.3h0M337.2 310.6h0M285.4 322.9h0M162.2 370.4h0M312.7 328.3h0M102.2 437.8h0M248.5 344.1h0M244.5 326.6h0M116.0 405.6h0M365.1 291.5h0M86.8 419.8h0M389.6 292.2h0M81.2 428.8h0M255.9 367.2h0M255.0 436.5h0M142.6 385.8h0M256.4 368.3h0M251.1 354.5h0M141.4 433.7h0M244.7 379.6h0M222.0 357.8h0M84.5 417.1h0M237.0 363.1h0M285.5 335.2h0M116.9 403.2h0M92.5 432.5h0M358.6 343.5h0M325.4 288.3h0M248.3 373.1h0M329.4 318.7h0M398.0 295.4h0M290.0 344.5h0M399.8 308.7h0M153.9 397.2h0M130.1 399.7h0M97.2 433.6h0M366.6 346.6h0M123.5 397.6h0M197.5 376.1h0M329.5 338.7h0M383.4 319.5h0M55.7 445.6h0M259.2 357.6h0M263.8 364.9h0M88.1 409.2h0M227.1 372.9h0M219.9 391.0h0M298.6 350.7h0M305.3 323.9h0M182.7 417.3h0M193.3 398.3h0M175.9 364.8h0M173.6 425.1h0M336.8 327.9h0M154.8 390.9h0M376.4 334.7h0M341.8 361.8h0M330.2 332.8h0M336.7 291.5h0M254.5 361.0h0M224.2 331.6h0M244.8 349.1h0M341.4 316.1h0M182.7 396.0h0M305.2 340.0h0M330.2 307.4h0M183.2 368.0h0M127.1 388.2h0M250.3 384.4h0M300.1 313.2h0M114.7 422.5h0M182.9 368.9h0M397.9 289.7h0M196.2 358.7h0M366.7 290.1h0M244.0 360.3h0M209.2 360.0h0M196.9 369.5h0M185.3 357.8h0M217.3 369.0h0M352.1 277.6h0M214.8 352.8h0M227.5 336.5h0M197.4 381.1h0M236.9 386.6h0M272.2 350.6h0M211.6 339.4h0M386.5 314.3h0M363.0 311.5h0M239.9 343.1h0M101.0 436.0h0M298.7 325.5h0M149.0 384.7h0M403.9 306.3h0M137.6 391.8h0M302.7 308.9h0M256.2 385.5h0M169.5 359.4h0M259.4 426.9h0M86.3 431.0h0M170.3 387.6h0M245.6 330.9h0M115.8 411.1h0M341.6 331.0h0M358.0 306.9h0M170.6 366.4h0M356.3 295.9h0M88.2 419.3h0M246.2 405.5h0M298.3 339.8h0M208.8 370.3h0M208.0 395.3h0M375.1 278.9h0M250.5 335.3h0M90.9 423.3h0M134.9 399.8h0M324.3 349.7h0M135.5 411.2h0M284.9 337.0h0M262.8 333.0h0M175.5 374.3h0M155.8 369.6h0M120.2 407.2h0M202.2 400.0h0M393.9 312.3h0M295.5 297.3h0M209.0 372.3h0M110.9 415.5h0M275.3 423.6h0M358.3 314.7h0M294.4 323.9h0M169.2 383.6h0M55.1 443.1h0M131.1 423.5h0M295.8 352.9h0M146.4 394.5h0M94.2 407.0h0M344.1 327.8h0M243.4 372.8h0M343.9 330.8h0M234.3 342.0h0M300.7 374.9h0M328.7 339.0h0M370.8 293.5h0M189.5 361.8h0M202.5 378.1h0M63.7 426.3h0M363.7 335.4h0M74.6 431.6h0M170.6 396.1h0M154.9 371.9h0M211.4 369.1h0M100.4 422.0h0M155.5 445.6h0M391.6 310.9h0M58.9 442.8h0M296.2 331.9h0M206.6 344.6h0M382.5 311.3h0M169.7 405.2h0M203.0 357.3h0M209.3 374.9h0M312.0 343.5h0M133.5 443.8h0M337.5 298.6h0M360.1 340.0h0M257.3 317.3h0M183.7 394.0h0M80.6 426.5h0M283.2 313.0h0M375.5 308.1h0M288.9 330.3h0M139.9 397.8h0M159.3 377.3h0M165.0 400.7h0M269.9 344.0h0M95.4 397.4h0M169.5 394.1h0M244.1 366.7h0M189.4 392.2h0M100.5 441.4h0M123.7 414.6h0M305.1 334.5h0M133.0 413.3h0M204.5 341.4h0M112.0 410.9h0M276.6 390.5h0M64.2 436.2h0M337.3 352.2h0M234.6 333.2h0M199.8 375.3h0M330.6 323.4h0M272.2 338.0h0M267.6 343.6h0M80.4 429.3h0M69.7 432.3h0M222.3 334.7h0M138.1 406.1h0M215.2 376.5h0M168.9 401.5h0M278.0 332.0h0M76.3 445.7h0M272.4 372.9h0M134.1 370.4h0M361.9 347.0h0M288.5 345.5h0M225.4 340.1h0M278.7 322.0h0M105.2 384.3h0M392.0 286.5h0M146.2 417.4h0M214.8 348.1h0M137.1 402.0h0M243.3 343.7h0M248.6 373.2h0M214.1 363.9h0M317.3 263.4h0M101.0 422.2h0M97.0 412.6h0M366.2 306.6h0M113.8 423.3h0M391.1 291.5h0M135.1 421.2h0M134.0 406.4h0M121.1 412.0h0M255.9 352.9h0M60.2 437.4h0M95.9 438.9h0M331.2 330.5h0M405.2 317.3h0M153.2 413.6h0M235.8 384.9h0M287.8 352.6h0M235.9 364.1h0M397.9 289.2h0M283.4 428.1h0M178.6 357.2h0M311.4 353.8h0M187.5 359.9h0M69.7 444.5h0M334.6 316.0h0M330.0 333.1h0M236.0 362.1h0M335.1 277.6h0M190.6 355.5h0M367.1 294.0h0M101.5 417.4h0M175.8 395.3h0M374.6 284.2h0M203.0 383.6h0M179.7 343.9h0M297.1 312.1h0M103.4 438.3h0M377.2 297.7h0M94.4 431.2h0M197.4 349.0h0M326.9 309.9h0M80.8 441.9h0M109.0 396.0h0M342.4 367.0h0M380.0 288.5h0M178.2 410.3h0M238.2 396.6h0M281.9 350.2h0M132.3 388.3h0M235.0 333.8h0M317.7 295.8h0M71.5 440.4h0M175.6 390.9h0M354.4 294.2h0M260.8 304.4h0M169.1 404.1h0M163.5 407.4h0M61.3 445.3h0M237.1 365.7h0M182.8 382.9h0M295.8 335.7h0M311.5 363.9h0M254.3 324.2h0M73.4 440.6h0M216.4 384.0h0M171.0 373.1h0M400.7 324.6h0M76.1 444.1h0M375.2 283.5h0M252.8 344.1h0M113.5 411.7h0M404.7 332.9h0M66.6 445.9h0M321.1 308.5h0M102.6 410.3h0M277.7 372.9h0M98.8 431.7h0M399.7 273.5h0M399.1 296.9h0M221.5 363.0h0M124.2 419.9h0M342.8 328.7h0M88.4 418.9h0M88.3 431.1h0M215.6 379.8h0M94.4 420.2h0M220.9 341.6h0M237.8 359.8h0M357.5 312.8h0M339.2 344.5h0M233.3 347.0h0M336.8 331.3h0M333.2 325.9h0M107.1 431.3h0M256.0 342.6h0M291.9 309.4h0M204.3 358.6h0M147.2 402.9h0M366.2 277.3h0M397.5 266.4h0M258.6 328.2h0M54.6 435.0h0M54.8 442.9h0M264.7 337.0h0M58.3 435.5h0M101.1 427.0h0M191.3 369.3h0M233.4 345.9h0M350.2 349.1h0M180.9 350.7h0M378.9 345.3h0M245.4 362.5h0M68.6 444.3h0M212.2 416.7h0M357.5 288.2h0M345.2 283.4h0M318.9 356.5h0M228.9 427.7h0M110.3 414.6h0M311.9 331.3h0M151.2 422.9h0M265.3 391.9h0M253.7 383.5h0M347.6 339.0h0M288.6 312.3h0M108.9 420.7h0M227.1 338.6h0M353.6 314.5h0M254.1 351.4h0M409.7 285.2h0M250.3 330.8h0M257.1 351.9h0M244.1 358.6h0M129.8 434.5h0M210.3 345.0h0M87.9 416.8h0M136.8 392.3h0M323.9 310.8h0M156.8 365.4h0M303.7 360.2h0M245.8 358.9h0M314.9 373.8h0M134.6 406.5h0M88.4 441.2h0M383.2 327.7h0M163.5 385.5h0M267.0 362.6h0M277.6 327.7h0M137.1 389.7h0M115.0 411.8h0M209.2 389.8h0M204.4 365.6h0M350.2 330.8h0M399.1 264.2h0M370.3 356.1h0M353.8 338.6h0M202.5 426.4h0M193.4 385.1h0M91.7 432.0h0M371.7 291.0h0M98.2 435.8h0M301.1 321.1h0M142.3 389.4h0M253.4 323.8h0M175.6 354.6h0M196.1 356.7h0M236.7 336.0h0M222.2 327.5h0M115.3 402.3h0M372.2 336.4h0M155.2 393.4h0M216.8 339.3h0M405.1 297.5h0M293.0 348.8h0M271.7 332.3h0M398.6 311.6h0M212.4 328.1h0M256.2 384.5h0M394.7 282.3h0M399.0 320.0h0M162.9 442.0h0M266.2 367.4h0M342.8 294.8h0M276.3 445.9h0M63.3 439.1h0M76.9 444.9h0M91.7 441.9h0M234.9 352.2h0M166.1 371.5h0M245.4 335.6h0M365.1 356.2h0M209.3 379.6h0M162.0 379.8h0M68.7 434.6h0M123.7 396.3h0M111.6 441.1h0M298.2 343.2h0M129.8 402.5h0M113.1 413.7h0M249.3 331.9h0M256.9 345.9h0M288.2 337.5h0M123.8 416.5h0M278.2 374.5h0M243.5 352.6h0M160.3 375.0h0M169.5 371.9h0M390.6 304.9h0M63.0 445.4h0M378.3 282.3h0M76.0 445.2h0M202.0 380.2h0M165.8 363.7h0M392.7 296.5h0M70.3 440.7h0M392.1 307.5h0M211.9 377.6h0M337.9 313.9h0M65.9 437.9h0M190.0 366.4h0M367.0 265.7h0M388.9 308.6h0M69.9 445.1h0M113.0 409.0h0M142.0 417.5h0M80.8 436.6h0M308.1 360.8h0M223.0 359.8h0M272.1 352.0h0M163.8 397.3h0M229.1 347.2h0M185.4 362.9h0M223.6 375.5h0M310.7 320.7h0M222.6 365.9h0M84.7 424.0h0M404.6 287.7h0M135.5 422.9h0M360.0 345.5h0M137.1 373.3h0M147.7 391.1h0M282.6 328.6h0M96.4 438.8h0M228.7 327.8h0M69.9 442.8h0M134.9 383.6h0M179.8 394.9h0M383.9 299.7h0M134.9 394.3h0M354.2 329.0h0M373.4 295.4h0M336.3 338.7h0M258.3 328.5h0M165.5 408.1h0M202.9 370.1h0M378.3 308.8h0M289.7 330.8h0M250.7 391.4h0M161.5 375.2h0M115.5 435.5h0M219.7 355.8h0M88.2 434.0h0M196.9 352.5h0M168.6 381.4h0M134.4 419.7h0M285.6 356.4h0M112.2 414.4h0M125.6 440.3h0M256.9 358.2h0M290.7 355.4h0M335.6 354.4h0M99.3 439.5h0M104.4 424.7h0M62.7 432.7h0M332.2 325.9h0M98.0 436.9h0M278.7 354.9h0M331.9 351.7h0M359.2 323.0h0M269.4 349.2h0M121.4 406.4h0M368.1 332.5h0M150.2 403.8h0M340.4 345.1h0M358.1 325.7h0M296.5 372.6h0M315.7 332.7h0M99.5 424.0h0M120.6 428.2h0M117.3 414.9h0M183.2 371.3h0M223.1 366.2h0M235.9 354.5h0M203.5 369.3h0M160.4 398.1h0M329.7 323.0h0M297.8 316.8h0M323.2 292.4h0M366.5 336.9h0M202.5 399.8h0M77.4 439.5h0M336.5 305.3h0M205.4 351.0h0M395.9 270.3h0M195.0 387.2h0M114.7 433.1h0M210.0 404.5h0M225.7 374.5h0M224.6 377.2h0M224.6 366.0h0M329.6 315.1h0M306.9 331.0h0M229.1 349.3h0M148.9 384.8h0M120.7 440.1h0M128.5 410.6h0M195.3 383.4h0M195.2 356.2h0M159.9 372.3h0M81.5 427.2h0M161.4 433.7h0M329.3 349.1h0M365.7 291.3h0M129.1 414.3h0M213.3 407.4h0M127.6 420.6h0M379.9 277.7h0M109.9 415.1h0M281.4 347.1h0M297.9 342.9h0M144.8 401.8h0M344.3 347.0h0M127.8 413.4h0M311.1 345.8h0M397.2 311.2h0M403.0 299.5h0M395.0 291.5h0M230.8 374.6h0M137.7 404.6h0M242.7 347.0h0M168.4 387.1h0M246.1 344.7h0M337.9 349.4h0M102.0 404.1h0M369.5 351.8h0M397.8 291.9h0M94.3 426.5h0M212.4 334.6h0M87.6 411.4h0M328.4 327.7h0M63.0 440.2h0M169.8 379.1h0M193.7 386.3h0M391.0 333.2h0M61.0 433.3h0M260.7 348.9h0M306.0 364.1h0M93.2 401.6h0M250.0 361.6h0M284.7 380.2h0M115.2 394.1h0M188.1 384.2h0M196.3 418.4h0M175.5 388.2h0M116.2 423.9h0M208.6 371.1h0M108.4 415.0h0M350.9 329.2h0M379.6 318.2h0M311.3 292.9h0M180.4 388.8h0M358.0 316.4h0M211.1 386.2h0M101.7 420.0h0M277.9 338.6h0M358.1 349.8h0M291.4 384.4h0M276.3 314.0h0M258.3 370.2h0M372.5 334.8h0M384.2 291.0h0M401.9 328.6h0M342.9 341.2h0M393.8 270.6h0M74.5 426.5h0M57.2 430.7h0M162.1 408.0h0M78.3 445.6h0M376.5 308.2h0M60.1 429.0h0M318.4 347.7h0M298.9 340.9h0M230.2 386.5h0M155.0 397.7h0M169.5 396.5h0M167.0 379.2h0M351.1 283.9h0M352.8 337.9h0M306.0 345.3h0M399.0 319.9h0M60.2 421.3h0M113.8 407.5h0M341.8 324.8h0M143.8 406.5h0M383.5 311.0h0M304.6 318.2h0M244.4 368.3h0M397.8 325.2h0M195.5 432.7h0M74.0 423.4h0M154.8 410.7h0M124.2 405.6h0M130.3 388.3h0M122.4 415.1h0M298.0 355.8h0M146.0 416.5h0M137.6 409.0h0M254.2 339.9h0M235.5 355.4h0M102.6 429.3h0M180.3 362.2h0M135.6 409.0h0M341.9 344.8h0M161.7 385.4h0M363.5 295.8h0M208.0 379.2h0M56.9 429.1h0M324.0 307.3h0M128.2 416.3h0M359.8 326.0h0M78.5 416.2h0M99.6 426.7h0M100.4 441.3h0M233.3 376.7h0M144.0 393.0h0M285.7 391.4h0M390.4 278.4h0M106.8 432.8h0M375.9 298.1h0M140.8 406.3h0M155.5 385.2h0M355.0 343.0h0M121.5 411.7h0M229.1 377.3h0M386.1 303.4h0M381.9 279.9h0M184.7 391.4h0M70.6 427.4h0M370.8 306.4h0M70.8 440.2h0M311.0 393.9h0M163.0 387.3h0M370.4 342.9h0M261.9 357.6h0M233.5 326.9h0M161.2 400.4h0M301.6 308.0h0M386.4 282.9h0M252.2 335.8h0M309.9 297.1h0M134.4 408.2h0M162.2 395.6h0M244.0 362.8h0M385.2 297.9h0M125.7 403.2h0M236.1 425.7h0M290.3 314.7h0M141.8 383.0h0M350.0 306.6h0M218.5 349.3h0M213.3 357.2h0M340.5 315.6h0M69.7 445.3h0M95.5 438.1h0M271.9 345.9h0M365.4 320.3h0M358.1 318.4h0M142.0 445.1h0M204.0 360.7h0M238.1 378.8h0M289.3 394.7h0M128.9 412.2h0M398.7 262.6h0M107.7 416.2h0M380.5 276.2h0M223.0 355.7h0M184.8 445.4h0M404.9 306.5h0M101.7 395.2h0M172.4 360.0h0M262.2 344.9h0M185.3 378.3h0M227.9 358.3h0M66.7 443.2h0M329.8 311.9h0M240.4 382.9h0M90.5 438.2h0M404.3 267.4h0M391.0 374.1h0M270.2 360.7h0M192.6 343.4h0M73.1 437.7h0M97.5 445.6h0M74.6 418.5h0M157.4 371.4h0M239.3 365.4h0M249.8 361.2h0M143.8 380.7h0M162.7 381.4h0M251.8 337.6h0M371.6 311.8h0M57.6 437.4h0M406.9 294.8h0M246.3 327.7h0M66.1 441.1h0M188.8 372.1h0M258.3 364.9h0M228.6 353.8h0M349.9 310.8h0M244.6 337.6h0M174.5 355.6h0M405.1 281.2h0M268.9 412.8h0M277.8 348.0h0M122.2 406.5h0M146.5 425.2h0M210.2 382.4h0M306.9 321.0h0M327.2 313.4h0M321.7 318.8h0M292.6 433.4h0M120.7 436.9h0M176.8 403.4h0M335.5 325.0h0M315.5 366.6h0M108.5 419.7h0M377.8 289.3h0M125.6 415.5h0M402.7 282.0h0M86.7 431.4h0M137.1 398.2h0M168.4 374.8h0M115.6 419.6h0M119.4 437.1h0M117.0 412.0h0M336.9 308.0h0M210.1 377.8h0M264.9 355.5h0M101.6 402.2h0M351.3 360.0h0M154.1 387.2h0M191.0 372.3h0M197.8 384.2h0M79.4 434.6h0M274.2 338.9h0M60.3 428.4h0M163.3 373.1h0M195.6 406.8h0M295.4 371.8h0M353.9 321.9h0M134.2 409.7h0M297.0 411.4h0M365.2 301.3h0M374.3 281.8h0M348.1 284.5h0M259.5 355.3h0M335.1 319.3h0M189.9 363.5h0M183.6 414.7h0M129.4 406.6h0M222.9 405.4h0M310.4 321.3h0M319.1 326.7h0M129.3 406.6h0M329.7 276.4h0M367.7 269.7h0M302.8 349.1h0M245.8 352.0h0M81.8 440.1h0M239.8 340.0h0M256.2 392.5h0M58.6 445.3h0M264.8 359.9h0M187.6 378.2h0M275.1 338.6h0M210.0 337.2h0M319.5 360.0h0M384.1 307.5h0M407.0 330.9h0M189.3 401.5h0M114.3 430.7h0M349.7 291.7h0M123.4 415.2h0M221.7 373.4h0M135.7 423.2h0M94.4 427.2h0M330.1 370.2h0M71.1 423.9h0M251.5 331.2h0M331.8 336.3h0M217.4 346.0h0M269.8 366.0h0M305.4 343.1h0M357.4 304.2h0M236.8 374.0h0M126.8 434.9h0M56.8 445.5h0M86.9 438.2h0M202.7 369.4h0M255.0 339.9h0M202.7 412.5h0M72.6 428.4h0M304.3 391.5h0M378.1 317.6h0M309.1 333.8h0M285.2 323.2h0M392.6 306.4h0M282.7 328.3h0M333.4 305.1h0M214.6 358.7h0M247.2 362.7h0M305.2 343.2h0M83.6 421.3h0M311.0 338.3h0M127.4 387.9h0M357.8 322.3h0M241.8 394.4h0M89.8 406.6h0M290.1 328.8h0M55.8 436.8h0M189.4 380.9h0M321.3 360.5h0M275.3 351.4h0M297.2 334.9h0M304.6 325.0h0M312.8 312.5h0M317.2 322.7h0M364.2 313.4h0M339.0 293.4h0M403.0 297.9h0M170.3 384.4h0M310.9 323.3h0M381.1 295.0h0M406.4 312.0h0M174.9 359.3h0M292.6 328.0h0M72.1 433.3h0M159.1 401.2h0M405.9 314.7h0M391.5 286.6h0M131.9 386.2h0M342.6 322.3h0M390.6 295.7h0M302.1 326.7h0M221.4 367.9h0M250.5 340.3h0M69.1 440.4h0M340.3 316.9h0M128.1 403.1h0M215.3 384.4h0M77.2 434.4h0M251.6 396.5h0M189.9 409.2h0M284.5 326.0h0M287.6 338.6h0M347.5 325.9h0M253.1 322.7h0M395.0 304.5h0M299.9 318.5h0M104.0 420.0h0M203.2 362.6h0M110.6 407.8h0M322.7 323.1h0M220.9 348.0h0M274.1 346.4h0M325.8 324.0h0M174.1 383.7h0M204.8 367.1h0M350.8 297.8h0M250.9 340.2h0M180.6 358.6h0M242.8 369.5h0M340.9 326.0h0M69.9 432.6h0M122.1 417.3h0M292.1 365.7h0M371.5 310.3h0M320.5 352.2h0M82.6 428.4h0M151.5 365.2h0M312.2 344.9h0M140.2 416.3h0M62.4 442.9h0M243.1 331.3h0M316.8 330.5h0M366.3 340.3h0M177.2 383.8h0M352.7 394.4h0M288.4 334.4h0M399.8 331.5h0M118.1 405.4h0M127.2 404.1h0M137.0 409.5h0M246.2 372.6h0M97.1 413.7h0M169.6 392.6h0M216.1 363.3h0M119.7 441.3h0M135.2 397.7h0M130.0 446.1h0M308.9 323.3h0M57.8 443.6h0M123.1 394.1h0M342.6 287.8h0M311.4 334.9h0M170.0 405.4h0M224.3 342.6h0M299.1 347.8h0M292.9 360.0h0M320.7 333.1h0M293.9 368.4h0M346.9 304.7h0M350.4 310.2h0M325.9 331.9h0M281.0 350.7h0M350.8 328.6h0M290.3 316.7h0M328.6 349.0h0M123.1 412.9h0M101.6 429.0h0M243.0 376.9h0M203.5 378.6h0M107.1 419.2h0M88.2 411.7h0M184.3 403.5h0M275.1 332.9h0M105.6 423.0h0M192.2 363.1h0M121.0 407.8h0M148.1 375.7h0M281.8 346.8h0M139.9 443.3h0M357.3 304.9h0M184.8 440.8h0M95.6 411.7h0M402.9 295.1h0M100.4 419.1h0M363.1 300.0h0M173.8 369.2h0M263.9 366.8h0M200.9 365.4h0M269.7 329.6h0M407.2 302.1h0M405.1 287.1h0M240.8 352.8h0M263.3 348.6h0M397.0 307.4h0M87.0 430.8h0M121.7 402.4h0M89.1 437.6h0M117.2 407.1h0M107.1 428.5h0M169.3 391.7h0M144.7 406.6h0M310.4 352.9h0M241.7 373.3h0M170.6 409.9h0M247.9 366.9h0M339.7 323.9h0M366.6 310.6h0M204.0 340.6h0M242.2 337.0h0M354.2 305.0h0M275.9 326.2h0M181.2 384.7h0M200.2 368.7h0M301.7 321.0h0M244.8 350.7h0M365.6 288.4h0M222.3 368.1h0M287.9 345.2h0M170.7 409.2h0M162.1 422.9h0M308.6 325.7h0M253.8 339.6h0M197.3 373.8h0M255.5 340.7h0M284.9 305.6h0M75.1 445.9h0M109.2 440.5h0M236.8 334.8h0M337.3 313.2h0M376.8 295.3h0M88.7 419.3h0M228.5 356.1h0M296.7 368.8h0M96.8 406.6h0M270.6 362.1h0M142.9 392.1h0M113.4 423.1h0M122.4 409.2h0M274.8 392.6h0M133.5 435.4h0M183.1 358.9h0M287.1 358.1h0M176.0 374.2h0M106.9 443.3h0M162.9 383.1h0M189.5 358.2h0M296.0 334.8h0M295.7 331.4h0M163.6 416.2h0M144.0 415.2h0M73.3 431.0h0M310.4 368.7h0M136.3 397.1h0M142.6 386.9h0M57.7 430.2h0M55.9 423.9h0M57.9 420.4h0M58.7 445.9h0M54.7 431.5h0M56.4 440.1h0M57.6 435.3h0M55.6 431.1h0M56.6 422.5h0M56.8 423.3h0M54.7 444.7h0M55.5 446.2h0M58.4 424.3h0M55.1 443.7h0M54.5 416.7h0M58.8 438.3h0M56.7 436.8h0M58.4 441.3h0M56.8 444.4h0M58.4 425.3h0M55.8 412.2h0M56.4 407.8h0M54.6 437.8h0M57.0 444.4h0M57.2 437.1h0M55.6 428.2h0M58.3 443.8h0M58.3 412.8h0M55.6 445.2h0M57.3 433.0h0M56.4 442.5h0M58.5 422.2h0M56.1 437.6h0M57.6 434.5h0M56.0 434.2h0M58.1 416.4h0M56.1 440.2h0M56.3 420.2h0M56.1 429.2h0M55.0 443.9h0M55.9 423.0h0M57.9 418.9h0M54.5 428.0h0M56.5 414.4h0M55.0 432.6h0"/>
<path class="d" d="M54.5 446.5L352.00 290.12"/>
<path class="d" d="M54.5 446.5L360.92 305.80"/>
<path class="d" d="M54.5 446.5L360.92 308.25"/>
<path class="d" d="M54.5 446.5L368.26 318.40"/>
<path class="d" d="M54.5 446.5L368.26 325.50"/>
<path class="k" d="M54.5 446.5L352.00 295.50"/>
<path class="ax" d="M54.8 259.5V446.6H411.8"/>
<path class="ax" d="M54.5 446.50h4M54.5 399.75h4M54.5 353.00h4M54.5 306.25h4M54.5 259.50h4M54.50 446.5v-3.5M94.17 446.5v-3.5M133.83 446.5v-3.5M173.50 446.5v-3.5M213.17 446.5v-3.5M252.83 446.5v-3.5M292.50 446.5v-3.5M332.17 446.5v-3.5M371.83 446.5v-3.5M411.50 446.5v-3.5"/>
<text class="t" x="50.6" y="451.0" text-anchor="end">0</text>
<text class="t" x="50.6" y="404.2" text-anchor="end">5</text>
<text class="t" x="50.6" y="357.5" text-anchor="end">10</text>
<text class="t" x="50.6" y="310.8" text-anchor="end">15</text>
<text class="t" x="50.6" y="264.0" text-anchor="end">20</text>
<text class="t" x="54.5" y="461.9" text-anchor="middle">0</text>
<text class="t" x="94.2" y="461.9" text-anchor="middle">2</text>
<text class="t" x="133.8" y="461.9" text-anchor="middle">4</text>
<text class="t" x="173.5" y="461.9" text-anchor="middle">6</text>
<text class="t" x="213.2" y="461.9" text-anchor="middle">8</text>
<text class="t" x="252.8" y="461.9" text-anchor="middle">10</text>
<text class="t" x="292.5" y="461.9" text-anchor="middle">12</text>
<text class="t" x="332.2" y="461.9" text-anchor="middle">14</text>
<text class="t" x="371.8" y="461.9" text-anchor="middle">16</text>
<text class="t" x="411.5" y="461.9" text-anchor="middle">18</text>
<text class="p" x="0.1" y="254.2">(b)</text>
<text class="s" transform="translate(25.7 387.3) rotate(-90)">Stress σ</text>
<text class="s" transform="translate(25.7 307.8) rotate(-90)" text-anchor="end">(kPa)</text>
<text class="s" x="203" y="482.5" textLength="58.8">Strain (%)</text>
</svg></body></html>
